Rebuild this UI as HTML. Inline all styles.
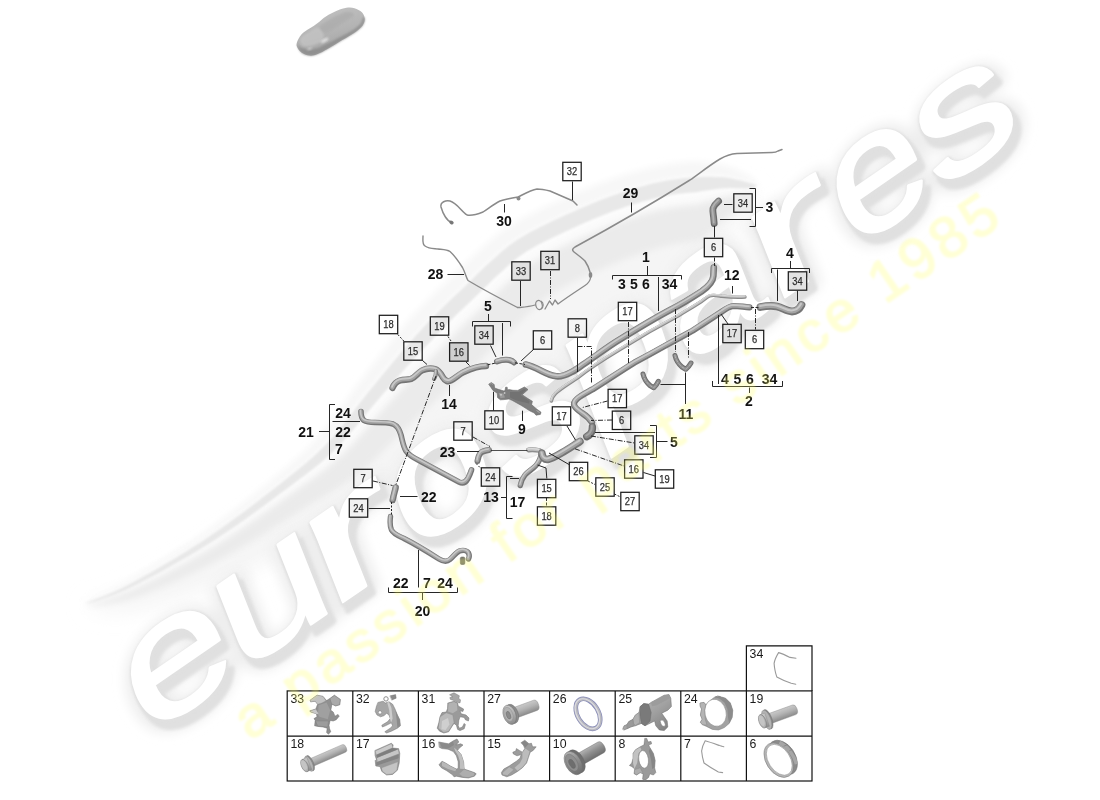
<!DOCTYPE html>
<html><head><meta charset="utf-8"><title>Porsche parts diagram - water cooling hoses</title>
<style>
html,body{margin:0;padding:0;background:#fff;}
body{width:1100px;height:800px;overflow:hidden;font-family:'Liberation Sans', Arial, sans-serif;}
svg{display:block;}
svg text{font-family:'Liberation Sans', Arial, sans-serif;}
</style></head>
<body>
<svg width="1100" height="800" viewBox="0 0 1100 800" role="img" aria-label="Parts diagram with eurospares watermark">
<desc>Exploded parts diagram of coolant hoses and lines with numbered callouts and a fastener legend table. Watermark: eurospares - a passion for parts since 1985</desc>
<defs>
<filter id="blur6" x="-20%" y="-20%" width="140%" height="140%"><feGaussianBlur stdDeviation="6"/></filter>
<filter id="blur10" x="-20%" y="-20%" width="140%" height="140%"><feGaussianBlur stdDeviation="10"/></filter>
<filter id="blur2" x="-20%" y="-20%" width="140%" height="140%"><feGaussianBlur stdDeviation="1.8"/></filter>
<filter id="blur3" x="-20%" y="-20%" width="140%" height="140%"><feGaussianBlur stdDeviation="3"/></filter>
<filter id="blur1" x="-20%" y="-20%" width="140%" height="140%"><feGaussianBlur stdDeviation="0.8"/></filter>
<linearGradient id="swg" x1="0" y1="1" x2="1" y2="0">
<stop offset="0" stop-color="#f3f3f3"/><stop offset="0.3" stop-color="#e7e7e7"/><stop offset="0.7" stop-color="#ebebeb"/><stop offset="1" stop-color="#f6f6f6"/>
</linearGradient>
</defs>
<g id="swoosh">
<path d="M84.0,604.0 L85.6,602.8 L87.6,601.7 L89.8,600.5 L92.3,599.3 L95.1,598.0 L98.0,596.6 L101.2,595.0 L104.6,593.4 L108.2,591.7 L111.9,589.8 L115.8,587.8 L119.8,585.6 L124.0,583.3 L128.3,580.8 L132.8,578.1 L137.7,575.1 L142.8,572.0 L148.2,568.8 L153.7,565.4 L159.4,561.8 L165.3,558.1 L171.2,554.4 L177.2,550.5 L183.2,546.6 L189.1,542.7 L195.0,538.7 L200.8,534.7 L206.4,530.7 L212.1,526.6 L217.9,522.3 L223.8,517.9 L229.8,513.3 L235.9,508.6 L241.9,503.9 L247.9,499.2 L253.8,494.5 L259.5,489.8 L265.0,485.3 L270.4,480.9 L275.4,476.7 L280.1,472.8 L284.5,469.1 L288.4,465.7 L292.0,462.6 L295.3,459.7 L298.3,457.1 L301.0,454.6 L303.5,452.2 L305.8,449.9 L308.1,447.7 L310.2,445.4 L312.4,443.1 L314.6,440.7 L316.9,438.2 L319.3,435.4 L321.8,432.5 L324.4,429.4 L327.0,426.1 L329.6,422.8 L332.3,419.3 L334.9,415.7 L337.6,412.0 L340.3,408.3 L343.0,404.5 L345.8,400.7 L348.5,396.8 L351.3,393.0 L354.1,389.1 L356.9,385.3 L359.7,381.6 L362.5,378.0 L365.3,374.3 L368.1,370.6 L371.0,366.9 L373.8,363.1 L376.7,359.4 L379.6,355.7 L382.4,352.1 L385.2,348.5 L388.0,345.0 L390.7,341.5 L393.3,338.2 L395.9,335.0 L398.4,331.9 L400.8,328.9 L403.2,326.0 L405.5,323.2 L407.8,320.6 L410.1,318.0 L412.3,315.6 L414.5,313.3 L416.7,311.0 L418.8,308.9 L420.8,306.7 L422.8,304.7 L424.8,302.7 L426.7,300.7 L428.6,298.8 L430.5,296.9 L432.3,295.1 L434.0,293.4 L435.6,291.8 L437.2,290.3 L438.7,288.9 L440.2,287.5 L441.7,286.1 L443.1,284.8 L444.6,283.4 L446.1,282.0 L447.6,280.6 L449.2,279.1 L450.9,277.5 L452.7,275.8 L454.5,274.0 L456.3,272.2 L458.2,270.3 L460.2,268.3 L462.2,266.3 L464.3,264.3 L466.4,262.2 L468.5,260.2 L470.6,258.1 L472.8,256.0 L475.0,254.0 L477.2,252.0 L479.4,250.0 L481.4,248.3 L483.3,246.5 L485.2,244.8 L487.1,243.1 L489.1,241.3 L491.2,239.5 L493.3,237.7 L495.5,235.8 L497.8,233.9 L500.3,232.0 L502.9,230.1 L505.6,228.2 L508.6,226.3 L511.6,224.4 L514.9,222.4 L518.3,220.5 L521.8,218.6 L525.4,216.6 L529.1,214.7 L532.9,212.8 L536.7,210.9 L540.6,209.0 L544.5,207.1 L548.4,205.3 L552.2,203.5 L556.0,201.8 L559.8,200.1 L563.4,198.4 L567.1,196.8 L570.7,195.2 L574.3,193.6 L578.0,192.0 L581.7,190.5 L585.3,188.9 L589.0,187.4 L592.7,185.9 L596.4,184.5 L600.1,183.1 L603.8,181.7 L607.5,180.4 L611.2,179.1 L615.0,177.8 L618.6,176.6 L622.3,175.4 L626.0,174.3 L629.7,173.2 L633.4,172.1 L637.1,171.0 L640.9,170.0 L644.6,169.0 L648.4,168.1 L652.2,167.2 L656.0,166.3 L659.8,165.6 L663.6,164.9 L667.5,164.2 L671.3,163.6 L675.2,163.1 L679.1,162.6 L683.0,162.2 L687.0,161.8 L690.9,161.5 L694.8,161.2 L698.8,161.5 L702.6,161.8 L706.4,162.2 L710.1,162.6 L713.8,163.2 L717.3,163.8 L720.8,164.5 L724.3,165.3 L727.9,166.3 L731.3,167.4 L734.6,168.7 L737.8,170.0 L740.8,171.4 L743.7,172.8 L746.4,174.3 L748.9,175.8 L751.1,177.3 L753.1,178.8 L754.8,180.4 L756.2,182.2 L757.0,185.0 L757.0,185.0 L755.5,184.6 L753.8,184.2 L751.8,183.6 L749.5,183.0 L747.0,182.3 L744.4,181.6 L741.6,180.8 L738.7,180.1 L735.7,179.4 L732.6,178.7 L729.5,178.1 L726.3,177.6 L723.1,177.3 L720.0,177.0 L716.8,176.9 L713.5,176.8 L710.1,176.7 L706.7,176.8 L703.1,176.8 L699.5,177.0 L695.8,177.2 L692.1,177.4 L688.4,177.7 L684.7,178.1 L680.9,178.5 L677.3,179.0 L673.6,179.5 L670.0,180.0 L666.4,180.6 L662.9,181.3 L659.3,182.0 L655.7,182.8 L652.1,183.6 L648.6,184.5 L645.0,185.4 L641.4,186.4 L637.9,187.4 L634.3,188.5 L630.7,189.6 L627.1,190.7 L623.6,191.8 L620.0,193.0 L616.4,194.2 L612.9,195.4 L609.3,196.7 L605.7,198.1 L602.1,199.4 L598.6,200.8 L595.0,202.2 L591.4,203.7 L587.9,205.2 L584.3,206.7 L580.7,208.3 L577.1,209.8 L573.6,211.4 L570.0,213.0 L566.4,214.6 L562.7,216.3 L558.9,218.0 L555.1,219.8 L551.3,221.6 L547.5,223.4 L543.8,225.2 L540.0,227.1 L536.4,228.9 L532.8,230.8 L529.4,232.6 L526.1,234.4 L523.0,236.2 L520.0,238.0 L517.2,239.7 L514.6,241.5 L512.2,243.2 L509.9,244.8 L507.7,246.5 L505.6,248.2 L503.6,249.9 L501.7,251.6 L499.7,253.2 L497.8,255.0 L495.9,256.7 L494.0,258.4 L492.0,260.2 L490.0,262.0 L487.9,263.9 L485.8,265.8 L483.8,267.7 L481.7,269.7 L479.6,271.7 L477.5,273.7 L475.5,275.7 L473.5,277.7 L471.5,279.7 L469.5,281.6 L467.6,283.6 L465.7,285.4 L463.8,287.2 L462.0,289.0 L460.3,290.7 L458.6,292.2 L457.0,293.7 L455.5,295.1 L454.0,296.5 L452.6,297.8 L451.1,299.2 L449.7,300.5 L448.2,301.9 L446.7,303.4 L445.1,304.9 L443.5,306.5 L441.8,308.2 L440.0,310.0 L438.1,311.9 L436.2,313.9 L434.3,315.8 L432.3,317.9 L430.3,320.0 L428.2,322.1 L426.1,324.3 L424.0,326.6 L421.8,328.9 L419.5,331.4 L417.2,333.9 L414.9,336.5 L412.5,339.2 L410.0,342.0 L407.5,344.9 L404.8,348.0 L402.1,351.2 L399.3,354.5 L396.5,357.9 L393.6,361.3 L390.6,364.9 L387.7,368.4 L384.7,372.1 L381.7,375.7 L378.8,379.3 L375.8,382.9 L372.9,386.5 L370.0,390.0 L367.1,393.5 L364.3,397.2 L361.4,400.8 L358.6,404.5 L355.7,408.3 L352.9,412.0 L350.0,415.8 L347.1,419.4 L344.3,423.1 L341.4,426.7 L338.6,430.2 L335.7,433.6 L332.9,436.9 L330.0,440.0 L327.2,442.9 L324.6,445.7 L322.2,448.2 L319.7,450.6 L317.4,452.9 L315.0,455.1 L312.5,457.4 L309.9,459.6 L307.2,461.9 L304.3,464.4 L301.2,467.0 L297.8,469.7 L294.1,472.7 L290.0,476.0 L285.5,479.6 L280.7,483.4 L275.5,487.5 L270.1,491.7 L264.4,496.1 L258.5,500.7 L252.5,505.2 L246.4,509.9 L240.2,514.5 L234.0,519.0 L227.9,523.5 L221.8,527.8 L215.8,532.0 L210.0,536.0 L204.2,539.9 L198.3,543.7 L192.2,547.6 L186.2,551.4 L180.0,555.2 L173.9,558.9 L167.9,562.5 L161.9,566.0 L156.1,569.4 L150.4,572.7 L144.9,575.8 L139.6,578.7 L134.7,581.5 L130.0,584.0 L125.6,586.3 L121.2,588.5 L117.1,590.5 L113.0,592.3 L109.2,594.0 L105.5,595.6 L102.0,597.0 L98.7,598.3 L95.6,599.5 L92.8,600.6 L90.2,601.5 L87.9,602.4 L85.8,603.3 L84.0,604.0 Z" fill="#f7f7f7" filter="url(#blur3)"/>
<path d="M84.0,604.0 L86.0,603.8 L88.2,603.4 L90.7,602.9 L93.5,602.3 L96.4,601.5 L99.6,600.7 L103.1,599.7 L106.7,598.6 L110.6,597.3 L114.6,595.9 L118.8,594.3 L123.2,592.5 L127.7,590.6 L132.4,588.4 L137.2,586.1 L142.4,583.6 L147.8,580.9 L153.4,578.0 L159.3,575.0 L165.3,571.8 L171.4,568.5 L177.7,565.1 L184.0,561.6 L190.3,558.0 L196.5,554.4 L202.8,550.7 L208.9,547.0 L214.9,543.3 L221.0,539.5 L227.1,535.4 L233.4,531.2 L239.8,526.9 L246.2,522.5 L252.5,518.1 L258.8,513.6 L265.0,509.2 L271.1,504.8 L277.0,500.6 L282.6,496.5 L287.9,492.6 L292.9,488.9 L297.6,485.5 L301.8,482.4 L305.8,479.5 L309.4,476.9 L312.7,474.4 L315.8,472.1 L318.8,469.8 L321.7,467.6 L324.4,465.4 L327.1,463.2 L329.8,460.9 L332.5,458.5 L335.3,456.0 L338.2,453.3 L341.2,450.4 L344.5,447.2 L347.7,443.8 L350.9,440.4 L354.0,436.8 L357.1,433.3 L360.2,429.6 L363.3,426.0 L366.4,422.4 L369.4,418.7 L372.4,415.2 L375.4,411.6 L378.3,408.2 L381.3,404.8 L384.2,401.5 L387.2,398.2 L390.3,394.7 L393.4,391.3 L396.5,387.8 L399.6,384.3 L402.7,380.9 L405.8,377.5 L408.9,374.1 L411.9,370.8 L414.9,367.6 L417.8,364.5 L420.6,361.5 L423.3,358.6 L425.9,355.9 L428.5,353.4 L430.9,350.9 L433.3,348.5 L435.7,346.2 L437.9,343.9 L440.0,341.6 L442.1,339.4 L444.1,337.3 L446.1,335.2 L448.1,333.2 L450.0,331.2 L451.9,329.2 L453.8,327.3 L455.7,325.4 L457.4,323.7 L459.0,322.1 L460.5,320.6 L461.9,319.2 L463.3,317.9 L464.7,316.6 L466.1,315.3 L467.5,314.0 L469.0,312.6 L470.5,311.2 L472.1,309.8 L473.7,308.2 L475.4,306.6 L477.2,304.9 L479.2,303.0 L481.1,301.1 L483.0,299.2 L485.0,297.2 L487.0,295.3 L489.0,293.3 L490.9,291.4 L492.9,289.4 L494.9,287.5 L496.9,285.6 L498.8,283.7 L500.8,281.9 L502.7,280.2 L504.6,278.4 L506.7,276.6 L508.7,274.8 L510.7,273.0 L512.6,271.3 L514.4,269.7 L516.1,268.2 L517.8,266.7 L519.6,265.2 L521.3,263.8 L523.1,262.4 L525.0,261.0 L527.0,259.6 L529.2,258.2 L531.5,256.8 L534.1,255.2 L536.9,253.6 L539.9,252.0 L543.1,250.3 L546.4,248.5 L549.9,246.8 L553.4,245.0 L557.1,243.2 L560.8,241.5 L564.5,239.7 L568.2,238.0 L571.8,236.3 L575.5,234.7 L579.0,233.1 L582.5,231.5 L586.0,230.0 L589.5,228.4 L592.9,226.9 L596.4,225.5 L599.8,224.0 L603.3,222.6 L606.7,221.3 L610.1,219.9 L613.5,218.6 L616.8,217.4 L620.2,216.2 L623.6,215.0 L626.9,213.9 L630.3,212.8 L633.8,211.7 L637.2,210.6 L640.6,209.6 L644.0,208.6 L647.3,207.6 L650.7,206.7 L654.0,205.8 L657.3,205.0 L660.6,204.2 L663.8,203.5 L667.1,202.9 L670.3,202.3 L673.5,201.7 L676.8,201.2 L680.1,200.8 L683.5,200.4 L686.9,200.0 L690.3,199.7 L693.7,199.4 L697.1,199.1 L700.5,198.3 L703.8,197.6 L707.0,196.8 L710.1,196.1 L713.2,195.4 L716.2,194.8 L718.9,194.2 L721.5,193.7 L724.1,193.2 L726.9,192.8 L729.8,192.5 L732.8,192.3 L735.8,192.1 L738.8,191.8 L741.7,191.6 L744.5,191.2 L747.3,190.8 L749.9,190.2 L752.4,189.4 L754.7,188.1 L757.0,185.0 L757.0,185.0 L750.8,203.4 L746.0,212.4 L741.6,219.5 L737.4,225.7 L733.4,231.1 L729.6,236.2 L726.1,240.9 L722.9,245.4 L720.0,249.8 L717.6,254.1 L715.7,258.4 L714.5,262.6 L714.1,266.8 L714.0,270.9 L713.2,274.8 L711.8,278.7 L710.1,282.4 L708.4,286.1 L706.7,289.8 L704.9,293.4 L703.1,297.0 L701.0,297.1 L698.9,297.3 L696.8,297.5 L694.7,297.7 L692.7,298.0 L690.8,298.2 L689.0,298.5 L687.5,298.7 L685.8,299.0 L684.1,299.4 L682.3,299.8 L680.3,300.3 L678.2,300.8 L676.0,301.4 L673.7,302.0 L671.3,302.7 L668.7,303.4 L666.1,304.2 L663.4,305.1 L660.5,306.0 L657.8,306.9 L655.3,307.7 L652.9,308.6 L650.5,309.4 L648.0,310.4 L645.4,311.4 L642.8,312.4 L640.0,313.5 L637.3,314.6 L634.4,315.8 L631.5,317.0 L628.5,318.3 L625.5,319.7 L622.4,321.0 L619.2,322.4 L615.9,323.9 L612.6,325.4 L609.3,327.0 L606.0,328.5 L602.8,330.0 L599.6,331.5 L596.6,333.0 L593.8,334.4 L591.1,335.7 L588.7,337.0 L586.6,338.1 L584.9,339.1 L583.5,339.8 L582.7,340.3 L582.3,340.6 L582.1,340.7 L582.0,340.7 L582.0,340.8 L581.8,340.9 L581.6,341.1 L581.1,341.5 L580.4,342.1 L579.4,343.0 L578.1,344.2 L576.4,345.7 L574.4,347.5 L572.0,349.7 L569.7,351.7 L568.3,352.9 L567.2,353.9 L566.0,355.1 L564.6,356.4 L563.1,357.8 L561.5,359.4 L559.8,361.1 L558.0,362.9 L556.0,364.8 L554.1,366.8 L552.0,368.9 L549.8,371.0 L547.5,373.3 L545.2,375.5 L542.9,377.7 L540.9,379.6 L539.0,381.4 L537.2,383.0 L535.6,384.5 L534.2,385.8 L533.0,386.9 L531.8,388.0 L530.8,389.0 L529.8,389.9 L528.9,390.8 L527.9,391.8 L526.8,392.9 L525.5,394.2 L523.8,395.9 L522.0,397.8 L520.2,399.6 L518.5,401.4 L516.7,403.2 L515.0,405.0 L513.2,406.9 L511.5,408.7 L509.7,410.6 L507.7,412.4 L505.1,413.7 L502.4,415.0 L499.7,416.5 L496.8,418.0 L493.9,419.7 L490.8,421.6 L487.5,423.7 L484.2,426.0 L480.7,428.4 L477.1,431.0 L473.5,433.6 L469.8,436.3 L466.1,439.0 L462.3,441.8 L458.5,444.7 L454.8,447.5 L451.0,450.3 L447.5,452.8 L444.2,455.0 L441.0,457.3 L437.6,459.8 L434.1,462.5 L430.4,465.4 L426.6,468.4 L422.6,471.7 L418.6,475.0 L414.4,478.5 L410.0,482.0 L405.6,485.7 L400.9,489.4 L396.1,493.1 L391.3,496.6 L387.0,499.5 L382.9,502.0 L378.8,504.4 L374.8,506.8 L370.7,509.0 L366.6,511.2 L362.4,513.3 L358.3,515.3 L354.1,517.3 L349.9,519.2 L345.6,521.1 L341.1,523.2 L336.4,525.4 L331.4,527.8 L326.0,530.5 L320.2,533.4 L314.1,536.6 L307.7,540.0 L301.0,543.5 L294.1,547.2 L287.1,550.9 L280.0,554.6 L272.8,558.4 L265.5,562.1 L258.2,565.7 L251.0,569.2 L243.9,572.6 L236.8,575.7 L229.8,578.7 L222.8,581.7 L215.7,584.6 L208.5,587.4 L201.4,590.1 L194.3,592.7 L187.3,595.2 L180.4,597.6 L173.6,599.8 L167.0,601.9 L160.7,603.8 L154.5,605.5 L148.6,607.0 L143.0,608.3 L137.4,609.4 L131.9,610.4 L126.7,611.1 L121.6,611.5 L116.8,611.8 L112.2,611.8 L107.9,611.7 L103.8,611.3 L100.0,610.8 L96.4,610.0 L93.1,609.0 L90.0,607.8 L87.0,606.3 L84.0,604.0 Z" fill="#f5f5f5" filter="url(#blur10)"/>
<path d="M84.0,604.0 L86.1,604.0 L88.3,603.7 L90.9,603.3 L93.6,602.8 L96.6,602.1 L99.9,601.3 L103.4,600.4 L107.1,599.4 L111.0,598.2 L115.0,596.8 L119.3,595.3 L123.7,593.6 L128.3,591.7 L133.0,589.7 L137.9,587.4 L143.1,585.0 L148.6,582.3 L154.3,579.5 L160.2,576.5 L166.2,573.4 L172.4,570.1 L178.7,566.8 L185.0,563.3 L191.4,559.8 L197.7,556.2 L204.0,552.6 L210.2,548.9 L216.3,545.3 L222.4,541.5 L228.6,537.5 L235.0,533.3 L241.4,529.1 L247.8,524.7 L254.2,520.3 L260.6,515.9 L266.8,511.5 L272.9,507.2 L278.8,503.0 L284.5,499.0 L289.9,495.1 L295.0,491.5 L299.7,488.1 L304.0,485.0 L307.9,482.2 L311.6,479.6 L315.0,477.2 L318.2,474.9 L321.2,472.6 L324.2,470.4 L327.0,468.2 L329.8,466.0 L332.6,463.7 L335.4,461.3 L338.2,458.8 L341.2,456.1 L344.3,453.2 L347.6,450.0 L350.9,446.6 L354.2,443.1 L357.4,439.6 L360.6,436.0 L363.8,432.4 L367.0,428.8 L370.1,425.2 L373.1,421.6 L376.2,418.1 L379.2,414.6 L382.2,411.2 L385.1,407.9 L388.1,404.7 L391.1,401.4 L394.2,398.0 L397.4,394.5 L400.5,391.1 L403.7,387.7 L406.8,384.3 L410.0,380.9 L413.1,377.6 L416.1,374.3 L419.1,371.2 L422.0,368.1 L424.9,365.2 L427.6,362.4 L430.3,359.7 L432.8,357.2 L435.3,354.8 L437.7,352.5 L440.1,350.3 L442.3,348.0 L444.4,345.8 L446.4,343.6 L448.5,341.5 L450.4,339.4 L452.4,337.4 L454.3,335.4 L456.2,333.4 L458.1,331.5 L460.0,329.6 L461.6,327.9 L463.2,326.4 L464.7,324.9 L466.1,323.6 L467.5,322.2 L468.8,321.0 L470.2,319.7 L471.6,318.4 L473.1,317.0 L474.6,315.6 L476.1,314.2 L477.8,312.6 L479.5,311.0 L481.4,309.2 L483.3,307.3 L485.3,305.4 L487.3,303.5 L489.2,301.5 L491.2,299.5 L493.2,297.6 L495.2,295.6 L497.1,293.7 L499.1,291.8 L501.0,289.9 L502.9,288.1 L504.8,286.3 L506.7,284.6 L508.6,282.9 L510.7,281.1 L512.8,279.2 L514.7,277.4 L516.6,275.8 L518.3,274.2 L520.0,272.7 L521.7,271.3 L523.4,269.9 L525.0,268.5 L526.7,267.2 L528.5,265.9 L530.4,264.6 L532.4,263.3 L534.6,261.9 L537.1,260.4 L539.8,258.9 L542.7,257.2 L545.9,255.6 L549.2,253.9 L552.6,252.1 L556.1,250.4 L559.7,248.6 L563.3,246.9 L567.0,245.2 L570.7,243.5 L574.3,241.8 L577.9,240.1 L581.5,238.5 L585.0,237.0 L588.4,235.4 L591.9,233.9 L595.3,232.5 L598.7,231.0 L602.1,229.6 L605.5,228.2 L608.9,226.9 L612.2,225.5 L615.6,224.3 L618.9,223.0 L622.2,221.8 L625.5,220.7 L628.8,219.6 L632.2,218.5 L635.6,217.4 L639.0,216.3 L642.3,215.3 L645.7,214.3 L649.0,213.4 L652.2,212.5 L655.5,211.6 L658.7,210.8 L661.9,210.1 L665.1,209.4 L668.2,208.8 L671.3,208.2 L674.4,207.6 L677.6,207.2 L680.9,206.7 L684.2,206.3 L687.5,205.9 L690.8,205.6 L694.2,205.4 L697.5,205.1 L700.7,204.2 L703.9,203.2 L707.1,202.3 L710.1,201.4 L713.1,200.5 L716.0,199.7 L718.6,198.9 L721.0,198.1 L723.5,197.5 L726.2,196.9 L729.1,196.3 L732.0,195.8 L735.0,195.3 L738.0,194.8 L741.0,194.3 L743.9,193.7 L746.7,192.9 L749.4,192.0 L752.0,190.8 L754.4,189.0 L757.0,185.0 L757.0,185.0 L753.0,194.6 L749.7,199.2 L746.3,202.8 L743.0,205.7 L739.8,208.3 L736.5,210.7 L733.3,212.9 L730.3,214.9 L727.3,216.9 L724.6,218.9 L722.1,220.9 L720.0,222.9 L718.3,225.0 L716.8,227.1 L714.9,229.1 L712.6,231.1 L710.1,233.1 L707.6,235.1 L705.0,237.1 L702.4,239.1 L699.7,241.1 L696.9,241.3 L694.0,241.5 L691.1,241.8 L688.3,242.1 L685.5,242.4 L682.8,242.8 L680.2,243.2 L677.6,243.6 L675.1,244.1 L672.5,244.6 L669.9,245.2 L667.2,245.8 L664.4,246.5 L661.5,247.3 L658.6,248.1 L655.7,248.9 L652.7,249.8 L649.6,250.7 L646.5,251.7 L643.3,252.7 L640.1,253.7 L637.2,254.7 L634.2,255.8 L631.3,256.8 L628.3,258.0 L625.2,259.1 L622.1,260.3 L619.0,261.6 L615.9,262.9 L612.7,264.2 L609.5,265.6 L606.2,267.0 L602.9,268.4 L599.6,269.9 L596.2,271.4 L592.8,272.9 L589.3,274.5 L585.8,276.1 L582.2,277.8 L578.8,279.4 L575.3,281.1 L571.9,282.7 L568.7,284.3 L565.6,285.9 L562.6,287.4 L559.9,288.9 L557.4,290.2 L555.3,291.5 L553.4,292.6 L551.9,293.5 L550.6,294.4 L549.5,295.2 L548.3,296.0 L547.3,296.9 L546.1,297.8 L545.0,298.7 L543.7,299.8 L542.2,301.1 L540.6,302.5 L538.9,304.1 L536.9,305.9 L534.7,307.9 L532.5,309.8 L530.8,311.4 L529.3,312.8 L527.6,314.3 L525.9,315.9 L524.1,317.6 L522.3,319.4 L520.4,321.3 L518.5,323.1 L516.6,325.1 L514.6,327.1 L512.6,329.1 L510.5,331.1 L508.4,333.1 L506.3,335.1 L504.3,337.1 L502.5,338.8 L500.7,340.5 L499.1,342.0 L497.6,343.4 L496.1,344.7 L494.8,346.0 L493.5,347.2 L492.3,348.4 L491.0,349.5 L489.8,350.7 L488.5,352.0 L487.2,353.3 L485.6,354.9 L483.8,356.7 L482.0,358.6 L480.1,360.5 L478.2,362.4 L476.4,364.4 L474.5,366.3 L472.6,368.3 L470.6,370.4 L468.7,372.5 L466.6,374.6 L464.1,376.4 L461.6,378.4 L459.0,380.4 L456.3,382.5 L453.6,384.8 L450.7,387.3 L447.7,389.9 L444.6,392.6 L441.4,395.5 L438.1,398.5 L434.8,401.5 L431.5,404.6 L428.1,407.8 L424.7,411.0 L421.3,414.2 L417.9,417.3 L414.5,420.5 L411.3,423.5 L408.2,426.3 L405.2,429.2 L402.1,432.3 L398.8,435.4 L395.5,438.7 L392.2,442.1 L388.7,445.6 L385.2,449.1 L381.7,452.6 L378.0,456.2 L374.3,459.8 L370.5,463.3 L366.6,466.8 L362.7,470.2 L359.1,473.1 L355.7,475.7 L352.4,478.2 L349.1,480.6 L345.8,482.8 L342.5,485.1 L339.1,487.2 L335.7,489.3 L332.3,491.4 L328.6,493.6 L324.9,495.9 L320.9,498.2 L316.7,500.8 L312.1,503.6 L307.1,506.7 L301.7,510.1 L296.1,513.7 L290.1,517.5 L283.9,521.4 L277.5,525.5 L271.0,529.6 L264.3,533.7 L257.6,537.9 L250.8,542.0 L244.1,546.0 L237.4,549.9 L230.8,553.6 L224.3,557.2 L217.9,560.6 L211.3,564.0 L204.7,567.3 L198.1,570.6 L191.4,573.8 L184.8,576.9 L178.2,580.0 L171.8,582.9 L165.4,585.6 L159.3,588.3 L153.3,590.7 L147.6,593.0 L142.1,595.1 L136.9,596.9 L131.9,598.6 L126.9,600.2 L122.2,601.5 L117.6,602.6 L113.2,603.5 L109.1,604.2 L105.1,604.8 L101.4,605.2 L97.9,605.5 L94.7,605.6 L91.7,605.5 L89.0,605.3 L86.5,604.9 L84.0,604.0 Z" fill="#ebebeb" filter="url(#blur3)"/>
<path d="M84.0,604.0 L85.8,603.3 L87.9,602.4 L90.2,601.5 L92.8,600.6 L95.6,599.5 L98.7,598.3 L102.0,597.0 L105.5,595.6 L109.2,594.0 L113.0,592.3 L117.1,590.5 L121.2,588.5 L125.6,586.3 L130.0,584.0 L134.7,581.5 L139.6,578.7 L144.9,575.8 L150.4,572.7 L156.1,569.4 L161.9,566.0 L167.9,562.5 L173.9,558.9 L180.0,555.2 L186.2,551.4 L192.2,547.6 L198.3,543.7 L204.2,539.9 L210.0,536.0 L215.8,532.0 L221.8,527.8 L227.9,523.5 L234.0,519.0 L240.2,514.5 L246.4,509.9 L252.5,505.2 L258.5,500.7 L264.4,496.1 L270.1,491.7 L275.5,487.5 L280.7,483.4 L285.5,479.6 L290.0,476.0 L294.1,472.7 L297.8,469.7 L301.2,467.0 L304.3,464.4 L307.2,461.9 L309.9,459.6 L312.5,457.4 L315.0,455.1 L317.4,452.9 L319.7,450.6 L322.2,448.2 L324.6,445.7 L327.2,442.9 L330.0,440.0 L332.9,436.9 L335.7,433.6 L338.6,430.2 L341.4,426.7 L344.3,423.1 L347.1,419.4 L350.0,415.8 L352.9,412.0 L355.7,408.3 L358.6,404.5 L361.4,400.8 L364.3,397.2 L367.1,393.5 L370.0,390.0 L372.9,386.5 L375.8,382.9 L378.8,379.3 L381.7,375.7 L384.7,372.1 L387.7,368.4 L390.6,364.9 L393.6,361.3 L396.5,357.9 L399.3,354.5 L402.1,351.2 L404.8,348.0 L407.5,344.9 L410.0,342.0 L412.5,339.2 L414.9,336.5 L417.2,333.9 L419.5,331.4 L421.8,328.9 L424.0,326.6 L426.1,324.3 L428.2,322.1 L430.3,320.0 L432.3,317.9 L434.3,315.8 L436.2,313.9 L438.1,311.9 L440.0,310.0 L441.8,308.2 L443.5,306.5 L445.1,304.9 L446.7,303.4 L448.2,301.9 L449.7,300.5 L451.1,299.2 L452.6,297.8 L454.0,296.5 L455.5,295.1 L457.0,293.7 L458.6,292.2 L460.3,290.7 L462.0,289.0 L463.8,287.2 L465.7,285.4 L467.6,283.6 L469.5,281.6 L471.5,279.7 L473.5,277.7 L475.5,275.7 L477.5,273.7 L479.6,271.7 L481.7,269.7 L483.8,267.7 L485.8,265.8 L487.9,263.9 L490.0,262.0 L492.0,260.2 L494.0,258.4 L495.9,256.7 L497.8,255.0 L499.7,253.2 L501.7,251.6 L503.6,249.9 L505.6,248.2 L507.7,246.5 L509.9,244.8 L512.2,243.2 L514.6,241.5 L517.2,239.7 L520.0,238.0 L523.0,236.2 L526.1,234.4 L529.4,232.6 L532.8,230.8 L536.4,228.9 L540.0,227.1 L543.8,225.2 L547.5,223.4 L551.3,221.6 L555.1,219.8 L558.9,218.0 L562.7,216.3 L566.4,214.6 L570.0,213.0 L573.6,211.4 L577.1,209.8 L580.7,208.3 L584.3,206.7 L587.9,205.2 L591.4,203.7 L595.0,202.2 L598.6,200.8 L602.1,199.4 L605.7,198.1 L609.3,196.7 L612.9,195.4 L616.4,194.2 L620.0,193.0 L623.6,191.8 L627.1,190.7 L630.7,189.6 L634.3,188.5 L637.9,187.4 L641.4,186.4 L645.0,185.4 L648.6,184.5 L652.1,183.6 L655.7,182.8 L659.3,182.0 L662.9,181.3 L666.4,180.6 L670.0,180.0 L673.6,179.5 L677.3,179.0 L680.9,178.5 L684.7,178.1 L688.4,177.7 L692.1,177.4 L695.8,177.2 L699.5,177.0 L703.1,176.8 L706.7,176.8 L710.1,176.7 L713.5,176.8 L716.8,176.9 L720.0,177.0 L723.1,177.3 L726.3,177.6 L729.5,178.1 L732.6,178.7 L735.7,179.4 L738.7,180.1 L741.6,180.8 L744.4,181.6 L747.0,182.3 L749.5,183.0 L751.8,183.6 L753.8,184.2 L755.5,184.6 L757.0,185.0 L757.0,185.0 L754.9,187.0 L752.8,187.7 L750.5,188.1 L748.0,188.3 L745.3,188.4 L742.6,188.4 L739.7,188.3 L736.7,188.2 L733.7,188.2 L730.7,188.1 L727.7,188.2 L724.8,188.3 L722.0,188.4 L719.3,188.7 L716.4,189.1 L713.3,189.5 L710.1,189.9 L706.9,190.4 L703.5,191.0 L700.2,191.5 L696.7,192.2 L693.2,192.4 L689.7,192.7 L686.2,193.0 L682.7,193.4 L679.2,193.8 L675.7,194.3 L672.4,194.8 L669.1,195.4 L665.7,196.0 L662.4,196.7 L659.0,197.4 L655.7,198.2 L652.3,199.0 L648.9,199.9 L645.5,200.9 L642.0,201.8 L638.6,202.9 L635.1,203.9 L631.7,205.0 L628.2,206.1 L624.7,207.2 L621.3,208.4 L617.9,209.6 L614.4,210.8 L611.0,212.1 L607.6,213.4 L604.1,214.8 L600.6,216.2 L597.2,217.6 L593.7,219.0 L590.2,220.5 L586.7,222.0 L583.2,223.5 L579.7,225.1 L576.2,226.7 L572.6,228.3 L568.9,230.0 L565.2,231.7 L561.5,233.4 L557.8,235.2 L554.0,236.9 L550.4,238.7 L546.7,240.5 L543.2,242.3 L539.8,244.1 L536.5,245.8 L533.4,247.5 L530.5,249.2 L527.8,250.8 L525.4,252.3 L523.1,253.9 L520.9,255.4 L518.9,256.8 L517.0,258.3 L515.1,259.8 L513.3,261.3 L511.5,262.9 L509.7,264.5 L507.9,266.1 L506.0,267.8 L504.1,269.6 L502.0,271.4 L500.0,273.2 L498.0,275.0 L496.0,276.8 L494.0,278.6 L492.0,280.5 L490.0,282.4 L488.0,284.4 L486.0,286.4 L484.0,288.3 L482.0,290.3 L480.1,292.3 L478.1,294.2 L476.2,296.1 L474.3,298.0 L472.4,299.8 L470.6,301.5 L468.9,303.1 L467.3,304.7 L465.7,306.1 L464.2,307.5 L462.8,308.8 L461.4,310.2 L459.9,311.5 L458.5,312.8 L457.1,314.2 L455.6,315.6 L454.1,317.1 L452.4,318.8 L450.7,320.5 L448.8,322.4 L446.9,324.3 L445.0,326.3 L443.1,328.3 L441.1,330.4 L439.1,332.5 L437.0,334.6 L434.9,336.9 L432.8,339.2 L430.6,341.5 L428.2,343.9 L425.8,346.3 L423.4,348.9 L420.9,351.5 L418.3,354.3 L415.6,357.2 L412.8,360.3 L409.9,363.4 L407.0,366.7 L404.0,370.0 L401.0,373.5 L397.9,376.9 L394.9,380.4 L391.8,383.9 L388.7,387.5 L385.7,391.0 L382.6,394.4 L379.7,397.9 L376.8,401.2 L373.9,404.7 L371.0,408.2 L368.0,411.8 L365.0,415.4 L362.1,419.1 L359.1,422.7 L356.1,426.4 L353.0,430.0 L350.0,433.6 L346.9,437.1 L343.9,440.5 L340.8,443.9 L337.7,447.1 L334.7,450.0 L331.9,452.7 L329.2,455.2 L326.6,457.6 L324.0,459.9 L321.4,462.2 L318.7,464.4 L316.0,466.6 L313.1,468.9 L310.0,471.2 L306.8,473.7 L303.2,476.4 L299.4,479.3 L295.2,482.5 L290.6,485.9 L285.6,489.7 L280.3,493.6 L274.8,497.8 L269.0,502.1 L263.0,506.5 L256.8,511.0 L250.6,515.5 L244.3,520.0 L238.0,524.4 L231.7,528.8 L225.4,533.0 L219.3,537.1 L213.4,541.0 L207.4,544.7 L201.3,548.5 L195.2,552.2 L188.9,555.9 L182.7,559.5 L176.5,563.1 L170.3,566.6 L164.2,570.0 L158.3,573.2 L152.5,576.3 L146.9,579.3 L141.5,582.1 L136.4,584.7 L131.6,587.0 L127.0,589.2 L122.6,591.2 L118.3,593.1 L114.1,594.7 L110.1,596.2 L106.3,597.6 L102.7,598.8 L99.3,599.9 L96.2,600.9 L93.2,601.7 L90.6,602.5 L88.1,603.1 L85.9,603.6 L84.0,604.0 Z" fill="#e8e8e8" filter="url(#blur1)"/>
</g>
<g id="wm-halo" filter="url(#blur6)">
<text transform="translate(155.0,740.0) rotate(-34.6) skewX(-13) translate(-7.35,-1.5) scale(1.316,1)" x="0" y="0" font-size="160" fill="#eeeeee" stroke="#eeeeee" stroke-width="21" stroke-linejoin="round" vector-effect="non-scaling-stroke">e</text>
<text transform="translate(252.1,673.0) rotate(-34.6) skewX(-13) translate(-12.72,-1.5) scale(1.368,1)" x="0" y="0" font-size="160" fill="#eeeeee" stroke="#eeeeee" stroke-width="21" stroke-linejoin="round" vector-effect="non-scaling-stroke">u</text>
<text transform="translate(345.1,608.8) rotate(-34.6) skewX(-13) translate(-18.83,-1.5) scale(1.925,1)" x="0" y="0" font-size="160" fill="#eeeeee" stroke="#eeeeee" stroke-width="21" stroke-linejoin="round" vector-effect="non-scaling-stroke">r</text>
<text transform="translate(420.9,556.6) rotate(-34.6) skewX(-13) translate(-6.95,-1.5) scale(1.258,1)" x="0" y="0" font-size="160" fill="#eeeeee" stroke="#eeeeee" stroke-width="21" stroke-linejoin="round" vector-effect="non-scaling-stroke">o</text>
<text transform="translate(513.1,493.0) rotate(-34.6) skewX(-13) translate(-4.34,-1.5) scale(1.304,1)" x="0" y="0" font-size="160" fill="#eeeeee" stroke="#eeeeee" stroke-width="21" stroke-linejoin="round" vector-effect="non-scaling-stroke">s</text>
<text transform="translate(601.1,432.2) rotate(-34.6) skewX(-13) translate(-12.01,-1.5) scale(1.319,1)" x="0" y="0" font-size="160" fill="#eeeeee" stroke="#eeeeee" stroke-width="21" stroke-linejoin="round" vector-effect="non-scaling-stroke">p</text>
<text transform="translate(695.0,367.5) rotate(-34.6) skewX(-13) translate(-6.26,-1.5) scale(1.155,1)" x="0" y="0" font-size="160" fill="#eeeeee" stroke="#eeeeee" stroke-width="21" stroke-linejoin="round" vector-effect="non-scaling-stroke">a</text>
<text transform="translate(787.2,303.9) rotate(-34.6) skewX(-13) translate(-18.30,-1.5) scale(1.875,1)" x="0" y="0" font-size="160" fill="#eeeeee" stroke="#eeeeee" stroke-width="21" stroke-linejoin="round" vector-effect="non-scaling-stroke">r</text>
<text transform="translate(861.3,252.8) rotate(-34.6) skewX(-13) translate(-6.27,-1.5) scale(1.157,1)" x="0" y="0" font-size="160" fill="#eeeeee" stroke="#eeeeee" stroke-width="21" stroke-linejoin="round" vector-effect="non-scaling-stroke">e</text>
<text transform="translate(944.4,195.4) rotate(-34.6) skewX(-13) translate(-4.47,-1.5) scale(1.333,1)" x="0" y="0" font-size="160" fill="#eeeeee" stroke="#eeeeee" stroke-width="21" stroke-linejoin="round" vector-effect="non-scaling-stroke">s</text>
</g>
<g id="wm-shadow" filter="url(#blur2)">
<text transform="translate(158.0,744.0) rotate(-34.6) skewX(-13) translate(-7.35,-1.5) scale(1.316,1)" x="0" y="0" font-size="160" fill="#e0e0e0" stroke="#e0e0e0" stroke-width="8" stroke-linejoin="round" vector-effect="non-scaling-stroke">e</text>
<text transform="translate(255.1,677.0) rotate(-34.6) skewX(-13) translate(-12.72,-1.5) scale(1.368,1)" x="0" y="0" font-size="160" fill="#e0e0e0" stroke="#e0e0e0" stroke-width="8" stroke-linejoin="round" vector-effect="non-scaling-stroke">u</text>
<text transform="translate(348.1,612.8) rotate(-34.6) skewX(-13) translate(-18.83,-1.5) scale(1.925,1)" x="0" y="0" font-size="160" fill="#e0e0e0" stroke="#e0e0e0" stroke-width="8" stroke-linejoin="round" vector-effect="non-scaling-stroke">r</text>
<text transform="translate(423.9,560.6) rotate(-34.6) skewX(-13) translate(-6.95,-1.5) scale(1.258,1)" x="0" y="0" font-size="160" fill="#e0e0e0" stroke="#e0e0e0" stroke-width="8" stroke-linejoin="round" vector-effect="non-scaling-stroke">o</text>
<text transform="translate(516.1,497.0) rotate(-34.6) skewX(-13) translate(-4.34,-1.5) scale(1.304,1)" x="0" y="0" font-size="160" fill="#e0e0e0" stroke="#e0e0e0" stroke-width="8" stroke-linejoin="round" vector-effect="non-scaling-stroke">s</text>
<text transform="translate(604.1,436.2) rotate(-34.6) skewX(-13) translate(-12.01,-1.5) scale(1.319,1)" x="0" y="0" font-size="160" fill="#e0e0e0" stroke="#e0e0e0" stroke-width="8" stroke-linejoin="round" vector-effect="non-scaling-stroke">p</text>
<text transform="translate(698.0,371.5) rotate(-34.6) skewX(-13) translate(-6.26,-1.5) scale(1.155,1)" x="0" y="0" font-size="160" fill="#e0e0e0" stroke="#e0e0e0" stroke-width="8" stroke-linejoin="round" vector-effect="non-scaling-stroke">a</text>
<text transform="translate(790.2,307.9) rotate(-34.6) skewX(-13) translate(-18.30,-1.5) scale(1.875,1)" x="0" y="0" font-size="160" fill="#e0e0e0" stroke="#e0e0e0" stroke-width="8" stroke-linejoin="round" vector-effect="non-scaling-stroke">r</text>
<text transform="translate(864.3,256.8) rotate(-34.6) skewX(-13) translate(-6.27,-1.5) scale(1.157,1)" x="0" y="0" font-size="160" fill="#e0e0e0" stroke="#e0e0e0" stroke-width="8" stroke-linejoin="round" vector-effect="non-scaling-stroke">e</text>
<text transform="translate(947.4,199.4) rotate(-34.6) skewX(-13) translate(-4.47,-1.5) scale(1.333,1)" x="0" y="0" font-size="160" fill="#e0e0e0" stroke="#e0e0e0" stroke-width="8" stroke-linejoin="round" vector-effect="non-scaling-stroke">s</text>
</g>
<g id="wm-edge" filter="url(#blur1)">
<text transform="translate(152.8,737.2) rotate(-34.6) skewX(-13) translate(-7.35,-1.5) scale(1.316,1)" x="0" y="0" font-size="160" fill="#e0e0e0" stroke="#e0e0e0" stroke-width="6" stroke-linejoin="round" vector-effect="non-scaling-stroke">e</text>
<text transform="translate(249.9,670.2) rotate(-34.6) skewX(-13) translate(-12.72,-1.5) scale(1.368,1)" x="0" y="0" font-size="160" fill="#e0e0e0" stroke="#e0e0e0" stroke-width="6" stroke-linejoin="round" vector-effect="non-scaling-stroke">u</text>
<text transform="translate(342.9,606.0) rotate(-34.6) skewX(-13) translate(-18.83,-1.5) scale(1.925,1)" x="0" y="0" font-size="160" fill="#e0e0e0" stroke="#e0e0e0" stroke-width="6" stroke-linejoin="round" vector-effect="non-scaling-stroke">r</text>
<text transform="translate(418.7,553.8) rotate(-34.6) skewX(-13) translate(-6.95,-1.5) scale(1.258,1)" x="0" y="0" font-size="160" fill="#e0e0e0" stroke="#e0e0e0" stroke-width="6" stroke-linejoin="round" vector-effect="non-scaling-stroke">o</text>
<text transform="translate(510.9,490.2) rotate(-34.6) skewX(-13) translate(-4.34,-1.5) scale(1.304,1)" x="0" y="0" font-size="160" fill="#e0e0e0" stroke="#e0e0e0" stroke-width="6" stroke-linejoin="round" vector-effect="non-scaling-stroke">s</text>
<text transform="translate(598.9,429.4) rotate(-34.6) skewX(-13) translate(-12.01,-1.5) scale(1.319,1)" x="0" y="0" font-size="160" fill="#e0e0e0" stroke="#e0e0e0" stroke-width="6" stroke-linejoin="round" vector-effect="non-scaling-stroke">p</text>
<text transform="translate(692.8,364.7) rotate(-34.6) skewX(-13) translate(-6.26,-1.5) scale(1.155,1)" x="0" y="0" font-size="160" fill="#e0e0e0" stroke="#e0e0e0" stroke-width="6" stroke-linejoin="round" vector-effect="non-scaling-stroke">a</text>
<text transform="translate(785.0,301.1) rotate(-34.6) skewX(-13) translate(-18.30,-1.5) scale(1.875,1)" x="0" y="0" font-size="160" fill="#e0e0e0" stroke="#e0e0e0" stroke-width="6" stroke-linejoin="round" vector-effect="non-scaling-stroke">r</text>
<text transform="translate(859.1,250.0) rotate(-34.6) skewX(-13) translate(-6.27,-1.5) scale(1.157,1)" x="0" y="0" font-size="160" fill="#e0e0e0" stroke="#e0e0e0" stroke-width="6" stroke-linejoin="round" vector-effect="non-scaling-stroke">e</text>
<text transform="translate(942.2,192.6) rotate(-34.6) skewX(-13) translate(-4.47,-1.5) scale(1.333,1)" x="0" y="0" font-size="160" fill="#e0e0e0" stroke="#e0e0e0" stroke-width="6" stroke-linejoin="round" vector-effect="non-scaling-stroke">s</text>
</g>
<g id="wm-face">
<text transform="translate(152.0,736.0) rotate(-34.6) skewX(-13) translate(-7.35,-1.5) scale(1.316,1)" x="0" y="0" font-size="160" fill="#ffffff" stroke="#ffffff" stroke-width="3" stroke-linejoin="round" vector-effect="non-scaling-stroke">e</text>
<text transform="translate(249.1,669.0) rotate(-34.6) skewX(-13) translate(-12.72,-1.5) scale(1.368,1)" x="0" y="0" font-size="160" fill="#ffffff" stroke="#ffffff" stroke-width="3" stroke-linejoin="round" vector-effect="non-scaling-stroke">u</text>
<text transform="translate(342.1,604.8) rotate(-34.6) skewX(-13) translate(-18.83,-1.5) scale(1.925,1)" x="0" y="0" font-size="160" fill="#ffffff" stroke="#ffffff" stroke-width="3" stroke-linejoin="round" vector-effect="non-scaling-stroke">r</text>
<text transform="translate(417.9,552.6) rotate(-34.6) skewX(-13) translate(-6.95,-1.5) scale(1.258,1)" x="0" y="0" font-size="160" fill="#ffffff" stroke="#ffffff" stroke-width="3" stroke-linejoin="round" vector-effect="non-scaling-stroke">o</text>
<text transform="translate(510.1,489.0) rotate(-34.6) skewX(-13) translate(-4.34,-1.5) scale(1.304,1)" x="0" y="0" font-size="160" fill="#ffffff" stroke="#ffffff" stroke-width="3" stroke-linejoin="round" vector-effect="non-scaling-stroke">s</text>
<text transform="translate(598.1,428.2) rotate(-34.6) skewX(-13) translate(-12.01,-1.5) scale(1.319,1)" x="0" y="0" font-size="160" fill="#ffffff" stroke="#ffffff" stroke-width="3" stroke-linejoin="round" vector-effect="non-scaling-stroke">p</text>
<text transform="translate(692.0,363.5) rotate(-34.6) skewX(-13) translate(-6.26,-1.5) scale(1.155,1)" x="0" y="0" font-size="160" fill="#ffffff" stroke="#ffffff" stroke-width="3" stroke-linejoin="round" vector-effect="non-scaling-stroke">a</text>
<text transform="translate(784.2,299.9) rotate(-34.6) skewX(-13) translate(-18.30,-1.5) scale(1.875,1)" x="0" y="0" font-size="160" fill="#ffffff" stroke="#ffffff" stroke-width="3" stroke-linejoin="round" vector-effect="non-scaling-stroke">r</text>
<text transform="translate(858.3,248.8) rotate(-34.6) skewX(-13) translate(-6.27,-1.5) scale(1.157,1)" x="0" y="0" font-size="160" fill="#ffffff" stroke="#ffffff" stroke-width="3" stroke-linejoin="round" vector-effect="non-scaling-stroke">e</text>
<text transform="translate(941.4,191.4) rotate(-34.6) skewX(-13) translate(-4.47,-1.5) scale(1.333,1)" x="0" y="0" font-size="160" fill="#ffffff" stroke="#ffffff" stroke-width="3" stroke-linejoin="round" vector-effect="non-scaling-stroke">s</text>
</g>
<defs>
<linearGradient id="carg" x1="0" y1="0" x2="0.4" y2="1">
<stop offset="0" stop-color="#c4c4c4"/><stop offset="0.6" stop-color="#b4b4b4"/><stop offset="1" stop-color="#a2a2a2"/>
</linearGradient>
<linearGradient id="carroof" x1="0" y1="0" x2="1" y2="1">
<stop offset="0" stop-color="#d6d6d6"/><stop offset="1" stop-color="#a8a8a8"/>
</linearGradient>
</defs>
<g id="car">
<path d="M296.9,42.5 C296.2,44.7 296.5,45.8 297.3,47.5 C298.0,49.1 299.3,51.0 301.4,52.4 C303.4,53.7 306.8,55.4 309.5,55.6 C312.3,55.9 314.7,55.1 317.7,54.0 C320.7,52.9 323.5,51.4 327.5,49.1 C331.6,46.8 337.8,42.8 342.3,40.1 C346.8,37.4 351.1,35.2 354.5,32.7 C358.0,30.3 361.0,27.7 362.7,25.4 C364.4,23.0 364.9,21.0 364.8,18.8 C364.6,16.6 363.6,14.0 361.9,12.3 C360.2,10.5 357.1,8.9 354.5,8.2 C352.0,7.4 349.2,7.4 346.4,7.8 C343.5,8.2 340.8,9.2 337.4,10.6 C334.0,12.1 329.2,14.3 325.9,16.4 C322.6,18.4 320.5,20.9 317.7,22.9 C315.0,25.0 312.3,26.7 309.5,28.6 C306.8,30.5 303.5,32.0 301.4,34.4 C299.3,36.7 297.5,40.4 296.9,42.5 Z" fill="url(#carg)"/>
<path d="M297.3,44.6 C297.3,45.3 299.3,50.5 301.4,52.4 C303.4,54.2 306.8,55.4 309.5,55.6 C312.3,55.9 314.7,55.1 317.7,54.0 C320.7,52.9 323.5,51.4 327.5,49.1 C331.6,46.8 337.8,42.8 342.3,40.1 C346.8,37.4 351.1,35.2 354.5,32.7 C358.0,30.3 361.0,27.7 362.7,25.4 C364.4,23.0 364.7,20.1 364.8,18.8 C364.8,17.5 363.8,16.8 363.1,17.6 C362.5,18.4 362.3,21.7 360.7,23.7 C359.0,25.8 356.5,27.8 353.3,29.9 C350.1,32.0 345.8,34.2 341.5,36.4 C337.2,38.7 331.5,41.5 327.5,43.4 C323.6,45.3 320.7,46.9 317.7,47.9 C314.7,48.8 312.3,49.1 309.5,49.1 C306.8,49.1 303.4,48.6 301.4,47.9 C299.3,47.1 297.3,43.8 297.3,44.6 Z" fill="#8e8e8e" filter="url(#blur1)" opacity="0.9"/>
<path d="M319.4,27.4 C319.9,25.4 323.7,23.2 327.5,20.9 C331.4,18.5 338.5,14.9 342.3,13.5 C346.1,12.1 348.6,11.9 350.5,12.3 C352.3,12.7 354.6,14.2 353.3,16.0 C352.0,17.7 346.4,20.4 342.7,22.9 C338.9,25.4 333.9,29.4 330.8,31.1 C327.8,32.8 326.2,33.8 324.3,33.1 C322.4,32.5 318.8,29.5 319.4,27.4 Z" fill="#adadad" filter="url(#blur1)" opacity="0.8"/>
<path d="M300.5,38.5 C301.6,36.1 306.7,33.7 309.5,31.9 C312.4,30.1 315.4,27.4 317.7,27.8 C320.0,28.2 322.8,32.2 323.5,34.4 C324.1,36.5 323.7,39.0 321.8,40.9 C319.9,42.8 315.1,45.0 312.0,45.8 C308.9,46.6 304.9,47.0 303.0,45.8 C301.1,44.6 299.5,40.8 300.5,38.5 Z" fill="#c6c6c6" filter="url(#blur1)" opacity="0.7"/>
<ellipse cx="324.6" cy="40.3" rx="4.2" ry="1.5" fill="#e4e4e4" transform="rotate(-30 324.6 40.3)" filter="url(#blur1)"/>
<ellipse cx="309.5" cy="48.7" rx="2.6" ry="1" fill="#d6d6d6" transform="rotate(-18 309.5 48.7)" filter="url(#blur1)"/>
</g>
<path d="M451,222 C447,221 443,214 441,207 C440,202 446,200 450,201 C457,203 461,211 467,215 C472,216 478,214 483,212 C489,208 494,204 500,201 C506,199 512,198 518,197 C524,194 531,190 537,189 C542,189 546,190 550,191 C557,194 566,198 573,201 L577,205" fill="none" stroke="#8a8a8a" stroke-width="1.5" stroke-linecap="round" stroke-linejoin="round"/>
<circle cx="518.5" cy="198.5" r="2" fill="#8a8a8a"/>
<ellipse cx="451.5" cy="222.5" rx="2.3" ry="1.8" fill="#777" transform="rotate(35 451.5 222.5)"/>
<path d="M782,149.5 L778,151 C776,152.5 774,152.5 772,152.5 L737,153.5 C730,154 725,156 720,159 C710,165 700,173 690,180 C650,205 610,228 575,247 C572,249 572,250.5 574,252 C578,255 582,258 585,261 C587,264 589,268 590,272" fill="none" stroke="#8a8a8a" stroke-width="1.5" stroke-linecap="round" stroke-linejoin="round"/>
<ellipse cx="590.5" cy="275" rx="1.8" ry="3" fill="#8a8a8a"/>
<path d="M590.5,278 C590,281 588,283.5 585,285.5 C576,291.5 566,298 558,304 L555,300 L552.5,305 L549.5,301 L545,309" fill="none" stroke="#8a8a8a" stroke-width="1.3" stroke-linecap="round" stroke-linejoin="round"/>
<ellipse cx="539" cy="305" rx="3.2" ry="4.6" fill="none" stroke="#8a8a8a" stroke-width="1.3" transform="rotate(-15 539 305)"/>
<path d="M541,301 C544,303 544,307 541,309" fill="none" stroke="#8a8a8a" stroke-width="1.1"/>
<path d="M535,305 C530,306.5 525,307 520,307.5 L517.5,307.5" fill="none" stroke="#8a8a8a" stroke-width="1.3" stroke-linecap="round" stroke-linejoin="round"/>
<path d="M423,236 C423,240 422,244 425,246 C429,249 434,248.5 438,249 C442,249.5 447,249.5 450,251.5 C455,256 459,262 462.5,267.5 C465,272 466,277 468,280.5 C484,290 501,299 517.5,307.5" fill="none" stroke="#8a8a8a" stroke-width="1.4" stroke-linecap="round" stroke-linejoin="round"/>
<path d="M718.6,201.2 C716.5,203 714,205.5 713,208.5 C712.5,211 713.2,214 713.6,217 L714.2,223.6" fill="none" stroke="#6c6c6c" stroke-width="6.8" stroke-linecap="round" stroke-linejoin="round"/>
<path d="M718.6,201.2 C716.5,203 714,205.5 713,208.5 C712.5,211 713.2,214 713.6,217 L714.2,223.6" fill="none" stroke="#929292" stroke-width="4.49" stroke-linecap="round" stroke-linejoin="round" transform="translate(-0.25,-0.55)"/>
<path d="M718.6,201.2 C716.5,203 714,205.5 713,208.5 C712.5,211 713.2,214 713.6,217 L714.2,223.6" fill="none" stroke="#b2b2b2" stroke-width="1.77" stroke-linecap="round" stroke-linejoin="round" transform="translate(-0.5,-1.1)"/>
<path d="M713.8,267.5 L713.4,276 C713,282 708,287 701.5,291.5 C690,299 680,305 672,309 C655,318 640,327 620,339.4 C608,346.5 596,356 585.5,363 C580,366.5 576,370 571,372.3 C566,375 561,376.8 556.4,376.3 C549,375.5 543,371.5 537.5,369 C533,367 529,365 525.8,364.6" fill="none" stroke="#757575" stroke-width="6.6" stroke-linecap="round" stroke-linejoin="round"/>
<path d="M713.8,267.5 L713.4,276 C713,282 708,287 701.5,291.5 C690,299 680,305 672,309 C655,318 640,327 620,339.4 C608,346.5 596,356 585.5,363 C580,366.5 576,370 571,372.3 C566,375 561,376.8 556.4,376.3 C549,375.5 543,371.5 537.5,369 C533,367 529,365 525.8,364.6" fill="none" stroke="#a3a3a3" stroke-width="4.36" stroke-linecap="round" stroke-linejoin="round" transform="translate(-0.25,-0.55)"/>
<path d="M713.8,267.5 L713.4,276 C713,282 708,287 701.5,291.5 C690,299 680,305 672,309 C655,318 640,327 620,339.4 C608,346.5 596,356 585.5,363 C580,366.5 576,370 571,372.3 C566,375 561,376.8 556.4,376.3 C549,375.5 543,371.5 537.5,369 C533,367 529,365 525.8,364.6" fill="none" stroke="#c8c8c8" stroke-width="1.72" stroke-linecap="round" stroke-linejoin="round" transform="translate(-0.5,-1.1)"/>
<path d="M745,297 C737,297.5 729,297 721.8,296.3 C717,295.5 713,294.5 709.5,296 C706,297.5 704,300 701.5,301.5 C693,307 686,311 678,316 C668,321.5 658,327 649,332 C639,338 630,343.5 620,349.5 C605,358.5 590,368 578,377.6 C570,383 560,389 555.5,393.5 C553.5,395.5 552,398 551.3,401" fill="none" stroke="#8a8a8a" stroke-width="3.4000000000000004" stroke-linecap="round" stroke-linejoin="round"/>
<path d="M745,297 C737,297.5 729,297 721.8,296.3 C717,295.5 713,294.5 709.5,296 C706,297.5 704,300 701.5,301.5 C693,307 686,311 678,316 C668,321.5 658,327 649,332 C639,338 630,343.5 620,349.5 C605,358.5 590,368 578,377.6 C570,383 560,389 555.5,393.5 C553.5,395.5 552,398 551.3,401" fill="none" stroke="#c2c2c2" stroke-width="2.24" stroke-linecap="round" stroke-linejoin="round" transform="translate(-0.25,-0.55)"/>
<path d="M745,297 C737,297.5 729,297 721.8,296.3 C717,295.5 713,294.5 709.5,296 C706,297.5 704,300 701.5,301.5 C693,307 686,311 678,316 C668,321.5 658,327 649,332 C639,338 630,343.5 620,349.5 C605,358.5 590,368 578,377.6 C570,383 560,389 555.5,393.5 C553.5,395.5 552,398 551.3,401" fill="none" stroke="#dedede" stroke-width="0.88" stroke-linecap="round" stroke-linejoin="round" transform="translate(-0.5,-1.1)"/>
<path d="M749.5,307.3 C744,307 739,306 733.5,306 C729,306.3 725.5,309 721.8,311.7 C712,318 702,324.5 692.7,330.6 C683,336 673,341.5 663.6,346.6 C654,352 644,357.5 634.5,362.6 C620,371.5 606,381 592.7,389.3 C587,392.5 581,395.5 577.5,398.5 C574.5,401 573.3,403.5 574.5,406 C576,409 579,411 582,413 C586,415.5 589.5,418.5 592,422.5" fill="none" stroke="#757575" stroke-width="6.2" stroke-linecap="round" stroke-linejoin="round"/>
<path d="M749.5,307.3 C744,307 739,306 733.5,306 C729,306.3 725.5,309 721.8,311.7 C712,318 702,324.5 692.7,330.6 C683,336 673,341.5 663.6,346.6 C654,352 644,357.5 634.5,362.6 C620,371.5 606,381 592.7,389.3 C587,392.5 581,395.5 577.5,398.5 C574.5,401 573.3,403.5 574.5,406 C576,409 579,411 582,413 C586,415.5 589.5,418.5 592,422.5" fill="none" stroke="#a3a3a3" stroke-width="4.09" stroke-linecap="round" stroke-linejoin="round" transform="translate(-0.25,-0.55)"/>
<path d="M749.5,307.3 C744,307 739,306 733.5,306 C729,306.3 725.5,309 721.8,311.7 C712,318 702,324.5 692.7,330.6 C683,336 673,341.5 663.6,346.6 C654,352 644,357.5 634.5,362.6 C620,371.5 606,381 592.7,389.3 C587,392.5 581,395.5 577.5,398.5 C574.5,401 573.3,403.5 574.5,406 C576,409 579,411 582,413 C586,415.5 589.5,418.5 592,422.5" fill="none" stroke="#c8c8c8" stroke-width="1.61" stroke-linecap="round" stroke-linejoin="round" transform="translate(-0.5,-1.1)"/>
<path d="M760.5,307 C766,306 772,305.5 777,306.5 C783,308 787,311.5 792,311.5 C797,311.5 800,308 801.5,305" fill="none" stroke="#757575" stroke-width="7.8" stroke-linecap="round" stroke-linejoin="round"/>
<path d="M760.5,307 C766,306 772,305.5 777,306.5 C783,308 787,311.5 792,311.5 C797,311.5 800,308 801.5,305" fill="none" stroke="#a3a3a3" stroke-width="5.15" stroke-linecap="round" stroke-linejoin="round" transform="translate(-0.25,-0.55)"/>
<path d="M760.5,307 C766,306 772,305.5 777,306.5 C783,308 787,311.5 792,311.5 C797,311.5 800,308 801.5,305" fill="none" stroke="#c8c8c8" stroke-width="2.03" stroke-linecap="round" stroke-linejoin="round" transform="translate(-0.5,-1.1)"/>
<path d="M392.5,388 C394,384 397,381.5 400,380.5 C404,379.5 408,380 411,379 C416,377 418,372.5 422,370.5 C426,368.5 431,368 435,369 C439,370 441,374 443,377.5 C445,381 448,382 451,380.5 C455,378.5 459,374.5 463,372.5 C468,370 472,368.5 476,367.5 C480,366.5 483,366 486,366" fill="none" stroke="#757575" stroke-width="6.3999999999999995" stroke-linecap="round" stroke-linejoin="round"/>
<path d="M392.5,388 C394,384 397,381.5 400,380.5 C404,379.5 408,380 411,379 C416,377 418,372.5 422,370.5 C426,368.5 431,368 435,369 C439,370 441,374 443,377.5 C445,381 448,382 451,380.5 C455,378.5 459,374.5 463,372.5 C468,370 472,368.5 476,367.5 C480,366.5 483,366 486,366" fill="none" stroke="#a3a3a3" stroke-width="4.22" stroke-linecap="round" stroke-linejoin="round" transform="translate(-0.25,-0.55)"/>
<path d="M392.5,388 C394,384 397,381.5 400,380.5 C404,379.5 408,380 411,379 C416,377 418,372.5 422,370.5 C426,368.5 431,368 435,369 C439,370 441,374 443,377.5 C445,381 448,382 451,380.5 C455,378.5 459,374.5 463,372.5 C468,370 472,368.5 476,367.5 C480,366.5 483,366 486,366" fill="none" stroke="#c8c8c8" stroke-width="1.66" stroke-linecap="round" stroke-linejoin="round" transform="translate(-0.5,-1.1)"/>
<path d="M436,371 C436,374 435.5,377 434,379" fill="none" stroke="#757575" stroke-width="4.0" stroke-linecap="round" stroke-linejoin="round"/>
<path d="M436,371 C436,374 435.5,377 434,379" fill="none" stroke="#a3a3a3" stroke-width="2.64" stroke-linecap="round" stroke-linejoin="round" transform="translate(-0.25,-0.55)"/>
<path d="M436,371 C436,374 435.5,377 434,379" fill="none" stroke="#c8c8c8" stroke-width="1.04" stroke-linecap="round" stroke-linejoin="round" transform="translate(-0.5,-1.1)"/>
<path d="M497,361.5 C501,360 505,359.5 509,360 C511,360.5 513,361.5 514,362.5" fill="none" stroke="#757575" stroke-width="6.0" stroke-linecap="round" stroke-linejoin="round"/>
<path d="M497,361.5 C501,360 505,359.5 509,360 C511,360.5 513,361.5 514,362.5" fill="none" stroke="#a3a3a3" stroke-width="3.96" stroke-linecap="round" stroke-linejoin="round" transform="translate(-0.25,-0.55)"/>
<path d="M497,361.5 C501,360 505,359.5 509,360 C511,360.5 513,361.5 514,362.5" fill="none" stroke="#c8c8c8" stroke-width="1.56" stroke-linecap="round" stroke-linejoin="round" transform="translate(-0.5,-1.1)"/>
<path d="M361,411.5 C361,415 361.5,418.5 364,420.5 C367,422.5 371,422.5 375,422.5 C381,422.5 388,422.5 393,424 C398,426 399.5,430 401,435 C402.5,441 403.5,447 406,451 C409,455.5 414,458 419,460.5 C432,467.5 446,475 459,482 C463,484 466,482 468,478.5 C469.5,475.5 470.5,473 471.5,470" fill="none" stroke="#757575" stroke-width="5.6" stroke-linecap="round" stroke-linejoin="round"/>
<path d="M361,411.5 C361,415 361.5,418.5 364,420.5 C367,422.5 371,422.5 375,422.5 C381,422.5 388,422.5 393,424 C398,426 399.5,430 401,435 C402.5,441 403.5,447 406,451 C409,455.5 414,458 419,460.5 C432,467.5 446,475 459,482 C463,484 466,482 468,478.5 C469.5,475.5 470.5,473 471.5,470" fill="none" stroke="#a3a3a3" stroke-width="3.70" stroke-linecap="round" stroke-linejoin="round" transform="translate(-0.25,-0.55)"/>
<path d="M361,411.5 C361,415 361.5,418.5 364,420.5 C367,422.5 371,422.5 375,422.5 C381,422.5 388,422.5 393,424 C398,426 399.5,430 401,435 C402.5,441 403.5,447 406,451 C409,455.5 414,458 419,460.5 C432,467.5 446,475 459,482 C463,484 466,482 468,478.5 C469.5,475.5 470.5,473 471.5,470" fill="none" stroke="#c8c8c8" stroke-width="1.46" stroke-linecap="round" stroke-linejoin="round" transform="translate(-0.5,-1.1)"/>
<path d="M489,450 C486,450.5 483,451 481,452.5 C478.5,455 478,458 477.5,461" fill="none" stroke="#757575" stroke-width="6.0" stroke-linecap="round" stroke-linejoin="round"/>
<path d="M489,450 C486,450.5 483,451 481,452.5 C478.5,455 478,458 477.5,461" fill="none" stroke="#a3a3a3" stroke-width="3.96" stroke-linecap="round" stroke-linejoin="round" transform="translate(-0.25,-0.55)"/>
<path d="M489,450 C486,450.5 483,451 481,452.5 C478.5,455 478,458 477.5,461" fill="none" stroke="#c8c8c8" stroke-width="1.56" stroke-linecap="round" stroke-linejoin="round" transform="translate(-0.5,-1.1)"/>
<path d="M528.5,450 C532,449.5 536,449.8 539.5,450.5" fill="none" stroke="#8d8d8d" stroke-width="4.8" stroke-linecap="round" stroke-linejoin="round"/>
<path d="M528.5,450 C532,449.5 536,449.8 539.5,450.5" fill="none" stroke="#c0c0c0" stroke-width="3.17" stroke-linecap="round" stroke-linejoin="round" transform="translate(-0.25,-0.55)"/>
<path d="M528.5,450 C532,449.5 536,449.8 539.5,450.5" fill="none" stroke="#dcdcdc" stroke-width="1.25" stroke-linecap="round" stroke-linejoin="round" transform="translate(-0.5,-1.1)"/>
<path d="M541.5,452 C541,457 539.5,461.5 536,465.5 C533,469 528,471.5 525,475 C522.5,478 521,482 520.3,485.5" fill="none" stroke="#757575" stroke-width="5.3999999999999995" stroke-linecap="round" stroke-linejoin="round"/>
<path d="M541.5,452 C541,457 539.5,461.5 536,465.5 C533,469 528,471.5 525,475 C522.5,478 521,482 520.3,485.5" fill="none" stroke="#a3a3a3" stroke-width="3.56" stroke-linecap="round" stroke-linejoin="round" transform="translate(-0.25,-0.55)"/>
<path d="M541.5,452 C541,457 539.5,461.5 536,465.5 C533,469 528,471.5 525,475 C522.5,478 521,482 520.3,485.5" fill="none" stroke="#c8c8c8" stroke-width="1.40" stroke-linecap="round" stroke-linejoin="round" transform="translate(-0.5,-1.1)"/>
<path d="M580,441.5 C576,444 571,447.5 565,451 C559,454.5 553,458.5 548,459.5 C544.5,460 542.5,457.5 542,453.5" fill="none" stroke="#757575" stroke-width="7.5" stroke-linecap="round" stroke-linejoin="round"/>
<path d="M580,441.5 C576,444 571,447.5 565,451 C559,454.5 553,458.5 548,459.5 C544.5,460 542.5,457.5 542,453.5" fill="none" stroke="#a3a3a3" stroke-width="4.95" stroke-linecap="round" stroke-linejoin="round" transform="translate(-0.25,-0.55)"/>
<path d="M580,441.5 C576,444 571,447.5 565,451 C559,454.5 553,458.5 548,459.5 C544.5,460 542.5,457.5 542,453.5" fill="none" stroke="#c8c8c8" stroke-width="1.95" stroke-linecap="round" stroke-linejoin="round" transform="translate(-0.5,-1.1)"/>
<path d="M592.4,427 C592.6,429.5 592,432 590.3,434 C589.3,435.2 588,436 586.8,436.6" fill="none" stroke="#676767" stroke-width="7.3999999999999995" stroke-linecap="round" stroke-linejoin="round"/>
<path d="M592.4,427 C592.6,429.5 592,432 590.3,434 C589.3,435.2 588,436 586.8,436.6" fill="none" stroke="#8a8a8a" stroke-width="4.88" stroke-linecap="round" stroke-linejoin="round" transform="translate(-0.25,-0.55)"/>
<path d="M592.4,427 C592.6,429.5 592,432 590.3,434 C589.3,435.2 588,436 586.8,436.6" fill="none" stroke="#a6a6a6" stroke-width="1.92" stroke-linecap="round" stroke-linejoin="round" transform="translate(-0.5,-1.1)"/>
<path d="M395.7,487.5 C395,491 393.5,495.5 392.7,500" fill="none" stroke="#757575" stroke-width="6.3999999999999995" stroke-linecap="round" stroke-linejoin="round"/>
<path d="M395.7,487.5 C395,491 393.5,495.5 392.7,500" fill="none" stroke="#a3a3a3" stroke-width="4.22" stroke-linecap="round" stroke-linejoin="round" transform="translate(-0.25,-0.55)"/>
<path d="M395.7,487.5 C395,491 393.5,495.5 392.7,500" fill="none" stroke="#c8c8c8" stroke-width="1.66" stroke-linecap="round" stroke-linejoin="round" transform="translate(-0.5,-1.1)"/>
<path d="M390.5,516.5 C390,521 389.5,526 391.5,530 C394,534.5 399,536 404,538.5 C416,544.5 428,552 439,559 C443,561.5 447,562 450,559.5 C453.5,556.5 456,552.5 459.5,551 C463,549.8 467,550.5 468.5,553 C469.5,555 469.5,557 468.5,559" fill="none" stroke="#757575" stroke-width="5.3999999999999995" stroke-linecap="round" stroke-linejoin="round"/>
<path d="M390.5,516.5 C390,521 389.5,526 391.5,530 C394,534.5 399,536 404,538.5 C416,544.5 428,552 439,559 C443,561.5 447,562 450,559.5 C453.5,556.5 456,552.5 459.5,551 C463,549.8 467,550.5 468.5,553 C469.5,555 469.5,557 468.5,559" fill="none" stroke="#a3a3a3" stroke-width="3.56" stroke-linecap="round" stroke-linejoin="round" transform="translate(-0.25,-0.55)"/>
<path d="M390.5,516.5 C390,521 389.5,526 391.5,530 C394,534.5 399,536 404,538.5 C416,544.5 428,552 439,559 C443,561.5 447,562 450,559.5 C453.5,556.5 456,552.5 459.5,551 C463,549.8 467,550.5 468.5,553 C469.5,555 469.5,557 468.5,559" fill="none" stroke="#c8c8c8" stroke-width="1.40" stroke-linecap="round" stroke-linejoin="round" transform="translate(-0.5,-1.1)"/>
<rect x="460.3" y="557" width="4.6" height="7.5" rx="1.5" fill="#6f6f6f" stroke="#5a5a5a" stroke-width="0.5"/>
<g id="p9" stroke-linejoin="round">
<path d="M488.7,384.2 L491.3,382.6 L494.2,384.5 L494.6,388 L499,389.6 L504,391 L505,390.6 L505.6,387.2 L507.2,387.2 L507.4,390 L509,389.6 L513,390.3 L517.8,390.4 L524.4,387 L528,389.6 L522.2,394.7 L527,398 L532.4,401.3 L531.6,404.6 L536,408.5 L541,412.2 L540.4,414.4 L536,415.2 L534.3,413 L530,411 L525,407.8 L520.5,405 L516.4,402.7 L512,400.3 L509,399 L504,399.6 L500.4,399.8 L497.5,397.6 L497.3,393.3 L493,390.4 L491,387.5 Z" fill="#7e7e7e" stroke="#6a6a6a" stroke-width="0.6"/>
<path d="M510,392 L518.5,392 L524,389 L526,390 L520.5,395 L529.5,401 L529,403.5 L516.5,400.5 L510,397.5 Z" fill="#727272"/>
<path d="M498.6,393 L503.5,393.4 L505,397.5 L500.5,398.2 Z" fill="#9a9a9a"/>
<circle cx="501" cy="394.8" r="1" fill="#c9c9c9"/><circle cx="504.6" cy="393" r="0.9" fill="#c4c4c4"/>
<path d="M489.6,384.4 L491.4,383.4 L493.3,384.8" fill="none" stroke="#a5a5a5" stroke-width="0.8"/>
<path d="M536.5,410.5 L539.6,412.6" fill="none" stroke="#b5b5b5" stroke-width="0.9"/>
</g>
<path d="M675,355.5 C676,360 678.5,364 682,367 L685.8,369.3 C688,367.5 689.6,365.5 691,363" fill="none" stroke="#6b6b6b" stroke-width="5" stroke-linecap="round" stroke-linejoin="round"/>
<path d="M675,355.5 C676,360 678.5,364 682,367 L685.8,369.3 C688,367.5 689.6,365.5 691,363" fill="none" stroke="#8e8e8e" stroke-width="3.2" stroke-linecap="round" stroke-linejoin="round"/>
<path d="M675,355.5 C676,360 678.5,364 682,367 L685.8,369.3 C688,367.5 689.6,365.5 691,363" fill="none" stroke="#b4b4b4" stroke-width="1" stroke-linecap="round" stroke-linejoin="round" stroke-dasharray="2.5 2"/>
<path d="M643,374 C644,378.5 646.5,382.5 650,385.5 L653.8,387.8 C655.6,386 657,384 658.3,381.3" fill="none" stroke="#6b6b6b" stroke-width="5" stroke-linecap="round" stroke-linejoin="round"/>
<path d="M643,374 C644,378.5 646.5,382.5 650,385.5 L653.8,387.8 C655.6,386 657,384 658.3,381.3" fill="none" stroke="#8e8e8e" stroke-width="3.2" stroke-linecap="round" stroke-linejoin="round"/>
<path d="M643,374 C644,378.5 646.5,382.5 650,385.5 L653.8,387.8 C655.6,386 657,384 658.3,381.3" fill="none" stroke="#b4b4b4" stroke-width="1" stroke-linecap="round" stroke-linejoin="round" stroke-dasharray="2.5 2"/>
<path d="M572.50,181.50 L572.50,200.00" fill="none" stroke="#262626" stroke-width="1.0"/>
<path d="M504.50,204.00 L504.50,212.50" fill="none" stroke="#262626" stroke-width="1.0"/>
<path d="M631.50,202.50 L631.50,212.50" fill="none" stroke="#262626" stroke-width="1.0"/>
<path d="M447.50,274.50 L464.00,274.50" fill="none" stroke="#262626" stroke-width="1.0"/>
<path d="M520.50,281.00 L520.50,306.00" fill="none" stroke="#262626" stroke-width="1.0"/>
<path d="M550.50,271.00 L550.50,299.00" fill="none" stroke="#262626" stroke-width="1.0" stroke-dasharray="5 1.5 1 1.5"/>
<path d="M647.50,266.00 L647.50,275.30" fill="none" stroke="#262626" stroke-width="1.0"/>
<path d="M612.50,279.50 L612.50,275.50 L681.50,275.50 L681.50,279.50" fill="none" stroke="#262626" stroke-width="1.0"/>
<path d="M658.50,277.00 L658.50,311.00" fill="none" stroke="#262626" stroke-width="1.0"/>
<path d="M749.50,188.50 L755.50,188.50 L755.50,226.50 L749.50,226.50" fill="none" stroke="#262626" stroke-width="1.0"/>
<path d="M755.50,207.50 L763.00,207.50" fill="none" stroke="#262626" stroke-width="1.0"/>
<path d="M724.00,204.50 L732.50,204.50" fill="none" stroke="#262626" stroke-width="1.0"/>
<path d="M720.00,219.50 L751.00,219.50" fill="none" stroke="#262626" stroke-width="1.0"/>
<path d="M714.50,226.00 L714.50,237.50" fill="none" stroke="#262626" stroke-width="1.0"/>
<path d="M714.50,257.50 L714.50,266.00" fill="none" stroke="#262626" stroke-width="1.0" stroke-dasharray="4 1.5"/>
<path d="M732.50,286.00 L732.50,293.50" fill="none" stroke="#262626" stroke-width="1.0"/>
<path d="M790.50,261.00 L790.50,268.70" fill="none" stroke="#262626" stroke-width="1.0"/>
<path d="M771.50,273.00 L771.50,268.50 L809.50,268.50 L809.50,273.00" fill="none" stroke="#262626" stroke-width="1.0"/>
<path d="M777.50,269.50 L777.50,301.00" fill="none" stroke="#262626" stroke-width="1.0"/>
<path d="M797.50,290.50 L797.50,301.00" fill="none" stroke="#262626" stroke-width="1.0"/>
<path d="M751.00,307.50 L759.00,307.50" fill="none" stroke="#262626" stroke-width="1.0" stroke-dasharray="3 1.5"/>
<path d="M755.50,309.00 L755.50,329.50" fill="none" stroke="#262626" stroke-width="1.0" stroke-dasharray="5 1.5 1 1.5"/>
<path d="M718.50,315.00 L718.50,384.00" fill="none" stroke="#262626" stroke-width="1.0"/>
<path d="M712.50,381.00 L712.50,386.50 L782.50,386.50 L782.50,381.00" fill="none" stroke="#262626" stroke-width="1.0"/>
<path d="M749.50,387.50 L749.50,393.00" fill="none" stroke="#262626" stroke-width="1.0"/>
<path d="M721.00,314.00 L728.00,324.00" fill="none" stroke="#262626" stroke-width="1.0"/>
<path d="M628.50,322.00 L628.50,364.00" fill="none" stroke="#262626" stroke-width="1.0" stroke-dasharray="5 1.5 1 1.5"/>
<path d="M577.50,338.00 L577.50,372.00" fill="none" stroke="#262626" stroke-width="1.0"/>
<path d="M577.50,346.50 L591.50,346.50 L591.50,384.00" fill="none" stroke="#262626" stroke-width="1.0" stroke-dasharray="5 1.5 1 1.5"/>
<path d="M675.50,309.00 L675.50,352.00" fill="none" stroke="#262626" stroke-width="1.0" stroke-dasharray="5 1.5 1 1.5"/>
<path d="M688.50,332.00 L688.50,359.00" fill="none" stroke="#262626" stroke-width="1.0" stroke-dasharray="5 1.5 1 1.5"/>
<path d="M685.50,372.50 L685.50,404.00" fill="none" stroke="#262626" stroke-width="1.0"/>
<path d="M660.50,384.50 L685.60,384.50" fill="none" stroke="#262626" stroke-width="1.0"/>
<path d="M488.50,314.00 L488.50,321.00" fill="none" stroke="#262626" stroke-width="1.0"/>
<path d="M472.50,326.50 L472.50,321.50 L510.50,321.50 L510.50,326.50" fill="none" stroke="#262626" stroke-width="1.0"/>
<path d="M502.50,323.00 L502.50,355.50" fill="none" stroke="#262626" stroke-width="1.0"/>
<path d="M490.50,345.50 L496.00,357.00" fill="none" stroke="#262626" stroke-width="1.0"/>
<path d="M534.00,349.00 L521.00,361.00" fill="none" stroke="#262626" stroke-width="1.0"/>
<path d="M487.50,364.80 L495.00,363.20" fill="none" stroke="#262626" stroke-width="1.0" stroke-dasharray="3 1.5"/>
<path d="M515.00,362.80 L525.00,364.50" fill="none" stroke="#262626" stroke-width="1.0" stroke-dasharray="3 1.5"/>
<path d="M397.80,334.50 L403.80,341.00" fill="none" stroke="#262626" stroke-width="1.0" stroke-dasharray="2 1.5"/>
<path d="M422.30,360.30 L427.00,364.50" fill="none" stroke="#262626" stroke-width="1.0"/>
<path d="M448.00,336.50 L451.00,341.00" fill="none" stroke="#262626" stroke-width="1.0" stroke-dasharray="2 1.5"/>
<path d="M466.00,362.00 L469.50,365.50" fill="none" stroke="#262626" stroke-width="1.0"/>
<path d="M449.50,385.00 L449.50,396.00" fill="none" stroke="#262626" stroke-width="1.0"/>
<path d="M493.50,391.80 L493.50,410.50" fill="none" stroke="#262626" stroke-width="1.0"/>
<path d="M522.50,410.70 L522.50,421.00" fill="none" stroke="#262626" stroke-width="1.0"/>
<path d="M436.00,376.00 L396.00,484.50" fill="none" stroke="#262626" stroke-width="1.0" stroke-dasharray="5 1.5 1 1.5"/>
<path d="M319.00,431.50 L329.50,431.50" fill="none" stroke="#262626" stroke-width="1.0"/>
<path d="M335.00,404.50 L329.50,404.50 L329.50,459.50 L335.00,459.50" fill="none" stroke="#262626" stroke-width="1.0"/>
<path d="M332.50,421.50 L360.00,421.50" fill="none" stroke="#262626" stroke-width="1.0"/>
<path d="M473.00,437.00 L490.00,446.50" fill="none" stroke="#262626" stroke-width="1.0" stroke-dasharray="5 1.5 1 1.5"/>
<path d="M457.00,451.50 L479.00,451.50" fill="none" stroke="#262626" stroke-width="1.0"/>
<path d="M491.00,450.50 L527.50,450.50" fill="none" stroke="#262626" stroke-width="0.8"/>
<path d="M476.00,463.50 L481.00,468.50" fill="none" stroke="#262626" stroke-width="1.0" stroke-dasharray="2 1.5"/>
<path d="M567.00,426.00 L575.50,440.00" fill="none" stroke="#262626" stroke-width="1.0"/>
<path d="M549.00,453.00 L569.00,464.50" fill="none" stroke="#262626" stroke-width="1.0"/>
<path d="M588.00,481.00 L595.00,484.50" fill="none" stroke="#262626" stroke-width="1.0" stroke-dasharray="2 1.5"/>
<path d="M614.50,494.00 L620.50,497.00" fill="none" stroke="#262626" stroke-width="1.0" stroke-dasharray="2 1.5"/>
<path d="M607.50,401.00 L582.50,407.50" fill="none" stroke="#262626" stroke-width="1.0" stroke-dasharray="5 1.5 1 1.5"/>
<path d="M612.00,420.00 L591.00,420.50" fill="none" stroke="#262626" stroke-width="1.0" stroke-dasharray="5 1.5 1 1.5"/>
<path d="M650.00,425.50 L656.50,425.50 L656.50,457.50 L650.00,457.50" fill="none" stroke="#262626" stroke-width="1.0"/>
<path d="M657.00,441.50 L667.50,441.50" fill="none" stroke="#262626" stroke-width="1.0"/>
<path d="M595.00,432.50 L655.00,432.50" fill="none" stroke="#262626" stroke-width="1.0"/>
<path d="M591.00,436.00 L634.50,443.00" fill="none" stroke="#262626" stroke-width="1.0" stroke-dasharray="5 1.5 1 1.5"/>
<path d="M575.00,448.80 L624.00,466.00" fill="none" stroke="#262626" stroke-width="1.0" stroke-dasharray="5 1.5 1 1.5"/>
<path d="M643.50,472.50 L655.00,476.00" fill="none" stroke="#262626" stroke-width="1.0"/>
<path d="M501.00,497.50 L506.50,497.50" fill="none" stroke="#262626" stroke-width="1.0"/>
<path d="M512.50,476.50 L506.50,476.50 L506.50,518.50 L512.50,518.50" fill="none" stroke="#262626" stroke-width="1.0"/>
<path d="M510.00,478.50 L519.00,478.50" fill="none" stroke="#262626" stroke-width="1.0"/>
<path d="M537.50,465.00 L546.00,468.00 L546.80,478.50" fill="none" stroke="#262626" stroke-width="1.0"/>
<path d="M546.50,498.00 L546.50,506.50" fill="none" stroke="#262626" stroke-width="1.0" stroke-dasharray="3 1.5"/>
<path d="M373.00,481.00 L392.50,485.50" fill="none" stroke="#262626" stroke-width="1.0" stroke-dasharray="5 1.5 1 1.5"/>
<path d="M400.00,496.50 L417.50,496.50" fill="none" stroke="#262626" stroke-width="1.0"/>
<path d="M368.80,508.50 L390.00,508.50" fill="none" stroke="#262626" stroke-width="1.0"/>
<path d="M391.50,502.00 L391.50,515.00" fill="none" stroke="#262626" stroke-width="1.0" stroke-dasharray="2 1.5"/>
<path d="M418.50,550.00 L418.50,587.50" fill="none" stroke="#262626" stroke-width="1.0"/>
<path d="M388.50,587.50 L388.50,592.50 L457.50,592.50 L457.50,587.50" fill="none" stroke="#262626" stroke-width="1.0"/>
<path d="M422.50,593.00 L422.50,600.00" fill="none" stroke="#262626" stroke-width="1.0"/>
<rect x="562.80" y="162.30" width="18.4" height="18.4" fill="none" stroke="#1c1c1c" stroke-width="1.25"/>
<text x="572.00" y="175.20" font-size="10.8" fill="#2c2c2c" stroke="#2c2c2c" stroke-width="0.25" text-anchor="middle" textLength="10.4" lengthAdjust="spacingAndGlyphs">32</text>
<rect x="511.80" y="261.80" width="18.4" height="18.4" fill="#e2e2e2" stroke="#1c1c1c" stroke-width="1.25"/>
<text x="521.00" y="274.70" font-size="10.8" fill="#2c2c2c" stroke="#2c2c2c" stroke-width="0.25" text-anchor="middle" textLength="10.4" lengthAdjust="spacingAndGlyphs">33</text>
<rect x="540.80" y="251.30" width="18.4" height="18.4" fill="#e2e2e2" stroke="#1c1c1c" stroke-width="1.25"/>
<text x="550.00" y="264.20" font-size="10.8" fill="#2c2c2c" stroke="#2c2c2c" stroke-width="0.25" text-anchor="middle" textLength="10.4" lengthAdjust="spacingAndGlyphs">31</text>
<rect x="733.80" y="193.80" width="18.4" height="18.4" fill="#ececec" stroke="#1c1c1c" stroke-width="1.25"/>
<text x="743.00" y="206.70" font-size="10.8" fill="#2c2c2c" stroke="#2c2c2c" stroke-width="0.25" text-anchor="middle" textLength="10.4" lengthAdjust="spacingAndGlyphs">34</text>
<rect x="704.30" y="238.30" width="18.4" height="18.4" fill="#f2f2f2" stroke="#1c1c1c" stroke-width="1.25"/>
<text x="713.50" y="251.20" font-size="10.8" fill="#2c2c2c" stroke="#2c2c2c" stroke-width="0.25" text-anchor="middle" textLength="5.2" lengthAdjust="spacingAndGlyphs">6</text>
<rect x="788.30" y="271.80" width="18.4" height="18.4" fill="#e2e2e2" stroke="#1c1c1c" stroke-width="1.25"/>
<text x="797.50" y="284.70" font-size="10.8" fill="#2c2c2c" stroke="#2c2c2c" stroke-width="0.25" text-anchor="middle" textLength="10.4" lengthAdjust="spacingAndGlyphs">34</text>
<rect x="722.80" y="324.30" width="18.4" height="18.4" fill="#e2e2e2" stroke="#1c1c1c" stroke-width="1.25"/>
<text x="732.00" y="337.20" font-size="10.8" fill="#2c2c2c" stroke="#2c2c2c" stroke-width="0.25" text-anchor="middle" textLength="10.4" lengthAdjust="spacingAndGlyphs">17</text>
<rect x="745.30" y="330.30" width="18.4" height="18.4" fill="none" stroke="#1c1c1c" stroke-width="1.25"/>
<text x="754.50" y="343.20" font-size="10.8" fill="#2c2c2c" stroke="#2c2c2c" stroke-width="0.25" text-anchor="middle" textLength="5.2" lengthAdjust="spacingAndGlyphs">6</text>
<rect x="618.30" y="302.30" width="18.4" height="18.4" fill="none" stroke="#1c1c1c" stroke-width="1.25"/>
<text x="627.50" y="315.20" font-size="10.8" fill="#2c2c2c" stroke="#2c2c2c" stroke-width="0.25" text-anchor="middle" textLength="10.4" lengthAdjust="spacingAndGlyphs">17</text>
<rect x="568.10" y="318.80" width="18.4" height="18.4" fill="none" stroke="#1c1c1c" stroke-width="1.25"/>
<text x="577.30" y="331.70" font-size="10.8" fill="#2c2c2c" stroke="#2c2c2c" stroke-width="0.25" text-anchor="middle" textLength="5.2" lengthAdjust="spacingAndGlyphs">8</text>
<rect x="379.30" y="315.30" width="18.4" height="18.4" fill="none" stroke="#1c1c1c" stroke-width="1.25"/>
<text x="388.50" y="328.20" font-size="10.8" fill="#2c2c2c" stroke="#2c2c2c" stroke-width="0.25" text-anchor="middle" textLength="10.4" lengthAdjust="spacingAndGlyphs">18</text>
<rect x="403.80" y="341.80" width="18.4" height="18.4" fill="none" stroke="#1c1c1c" stroke-width="1.25"/>
<text x="413.00" y="354.70" font-size="10.8" fill="#2c2c2c" stroke="#2c2c2c" stroke-width="0.25" text-anchor="middle" textLength="10.4" lengthAdjust="spacingAndGlyphs">15</text>
<rect x="430.30" y="316.80" width="18.4" height="18.4" fill="none" stroke="#1c1c1c" stroke-width="1.25"/>
<text x="439.50" y="329.70" font-size="10.8" fill="#2c2c2c" stroke="#2c2c2c" stroke-width="0.25" text-anchor="middle" textLength="10.4" lengthAdjust="spacingAndGlyphs">19</text>
<rect x="449.60" y="342.80" width="18.4" height="18.4" fill="#cfcfcf" stroke="#1c1c1c" stroke-width="1.25"/>
<text x="458.80" y="355.70" font-size="10.8" fill="#2c2c2c" stroke="#2c2c2c" stroke-width="0.25" text-anchor="middle" textLength="10.4" lengthAdjust="spacingAndGlyphs">16</text>
<rect x="474.80" y="325.80" width="18.4" height="18.4" fill="#e2e2e2" stroke="#1c1c1c" stroke-width="1.25"/>
<text x="484.00" y="338.70" font-size="10.8" fill="#2c2c2c" stroke="#2c2c2c" stroke-width="0.25" text-anchor="middle" textLength="10.4" lengthAdjust="spacingAndGlyphs">34</text>
<rect x="533.30" y="330.80" width="18.4" height="18.4" fill="none" stroke="#1c1c1c" stroke-width="1.25"/>
<text x="542.50" y="343.70" font-size="10.8" fill="#2c2c2c" stroke="#2c2c2c" stroke-width="0.25" text-anchor="middle" textLength="5.2" lengthAdjust="spacingAndGlyphs">6</text>
<rect x="484.80" y="410.80" width="18.4" height="18.4" fill="#f1f1f1" stroke="#1c1c1c" stroke-width="1.25"/>
<text x="494.00" y="423.70" font-size="10.8" fill="#2c2c2c" stroke="#2c2c2c" stroke-width="0.25" text-anchor="middle" textLength="10.4" lengthAdjust="spacingAndGlyphs">10</text>
<rect x="453.80" y="421.80" width="18.4" height="18.4" fill="none" stroke="#1c1c1c" stroke-width="1.25"/>
<text x="463.00" y="434.70" font-size="10.8" fill="#2c2c2c" stroke="#2c2c2c" stroke-width="0.25" text-anchor="middle" textLength="5.2" lengthAdjust="spacingAndGlyphs">7</text>
<rect x="552.30" y="406.80" width="18.4" height="18.4" fill="none" stroke="#1c1c1c" stroke-width="1.25"/>
<text x="561.50" y="419.70" font-size="10.8" fill="#2c2c2c" stroke="#2c2c2c" stroke-width="0.25" text-anchor="middle" textLength="10.4" lengthAdjust="spacingAndGlyphs">17</text>
<rect x="608.10" y="389.30" width="18.4" height="18.4" fill="none" stroke="#1c1c1c" stroke-width="1.25"/>
<text x="617.30" y="402.20" font-size="10.8" fill="#2c2c2c" stroke="#2c2c2c" stroke-width="0.25" text-anchor="middle" textLength="10.4" lengthAdjust="spacingAndGlyphs">17</text>
<rect x="612.30" y="411.10" width="18.4" height="18.4" fill="none" stroke="#1c1c1c" stroke-width="1.25"/>
<text x="621.50" y="424.00" font-size="10.8" fill="#2c2c2c" stroke="#2c2c2c" stroke-width="0.25" text-anchor="middle" textLength="5.2" lengthAdjust="spacingAndGlyphs">6</text>
<rect x="634.80" y="435.80" width="18.4" height="18.4" fill="none" stroke="#1c1c1c" stroke-width="1.25"/>
<text x="644.00" y="448.70" font-size="10.8" fill="#2c2c2c" stroke="#2c2c2c" stroke-width="0.25" text-anchor="middle" textLength="10.4" lengthAdjust="spacingAndGlyphs">34</text>
<rect x="624.60" y="459.80" width="18.4" height="18.4" fill="none" stroke="#1c1c1c" stroke-width="1.25"/>
<text x="633.80" y="472.70" font-size="10.8" fill="#2c2c2c" stroke="#2c2c2c" stroke-width="0.25" text-anchor="middle" textLength="10.4" lengthAdjust="spacingAndGlyphs">16</text>
<rect x="655.30" y="469.80" width="18.4" height="18.4" fill="none" stroke="#1c1c1c" stroke-width="1.25"/>
<text x="664.50" y="482.70" font-size="10.8" fill="#2c2c2c" stroke="#2c2c2c" stroke-width="0.25" text-anchor="middle" textLength="10.4" lengthAdjust="spacingAndGlyphs">19</text>
<rect x="569.30" y="462.30" width="18.4" height="18.4" fill="none" stroke="#1c1c1c" stroke-width="1.25"/>
<text x="578.50" y="475.20" font-size="10.8" fill="#2c2c2c" stroke="#2c2c2c" stroke-width="0.25" text-anchor="middle" textLength="10.4" lengthAdjust="spacingAndGlyphs">26</text>
<rect x="595.80" y="477.80" width="18.4" height="18.4" fill="none" stroke="#1c1c1c" stroke-width="1.25"/>
<text x="605.00" y="490.70" font-size="10.8" fill="#2c2c2c" stroke="#2c2c2c" stroke-width="0.25" text-anchor="middle" textLength="10.4" lengthAdjust="spacingAndGlyphs">25</text>
<rect x="620.80" y="492.30" width="18.4" height="18.4" fill="none" stroke="#1c1c1c" stroke-width="1.25"/>
<text x="630.00" y="505.20" font-size="10.8" fill="#2c2c2c" stroke="#2c2c2c" stroke-width="0.25" text-anchor="middle" textLength="10.4" lengthAdjust="spacingAndGlyphs">27</text>
<rect x="481.30" y="467.80" width="18.4" height="18.4" fill="#eeeeee" stroke="#1c1c1c" stroke-width="1.25"/>
<text x="490.50" y="480.70" font-size="10.8" fill="#2c2c2c" stroke="#2c2c2c" stroke-width="0.25" text-anchor="middle" textLength="10.4" lengthAdjust="spacingAndGlyphs">24</text>
<rect x="537.40" y="479.30" width="18.4" height="18.4" fill="none" stroke="#1c1c1c" stroke-width="1.25"/>
<text x="546.60" y="492.20" font-size="10.8" fill="#2c2c2c" stroke="#2c2c2c" stroke-width="0.25" text-anchor="middle" textLength="10.4" lengthAdjust="spacingAndGlyphs">15</text>
<rect x="537.40" y="506.80" width="18.4" height="18.4" fill="none" stroke="#1c1c1c" stroke-width="1.25"/>
<text x="546.60" y="519.70" font-size="10.8" fill="#2c2c2c" stroke="#2c2c2c" stroke-width="0.25" text-anchor="middle" textLength="10.4" lengthAdjust="spacingAndGlyphs">18</text>
<rect x="353.80" y="469.30" width="18.4" height="18.4" fill="none" stroke="#1c1c1c" stroke-width="1.25"/>
<text x="363.00" y="482.20" font-size="10.8" fill="#2c2c2c" stroke="#2c2c2c" stroke-width="0.25" text-anchor="middle" textLength="5.2" lengthAdjust="spacingAndGlyphs">7</text>
<rect x="349.30" y="498.80" width="18.4" height="18.4" fill="#f1f1f1" stroke="#1c1c1c" stroke-width="1.25"/>
<text x="358.50" y="511.70" font-size="10.8" fill="#2c2c2c" stroke="#2c2c2c" stroke-width="0.25" text-anchor="middle" textLength="10.4" lengthAdjust="spacingAndGlyphs">24</text>
<text x="504.00" y="225.80" font-size="14" font-weight="bold" fill="#111" text-anchor="middle">30</text>
<text x="630.50" y="197.80" font-size="14" font-weight="bold" fill="#111" text-anchor="middle">29</text>
<text x="435.50" y="278.80" font-size="14" font-weight="bold" fill="#111" text-anchor="middle">28</text>
<text x="646.00" y="261.60" font-size="14" font-weight="bold" fill="#111" text-anchor="middle">1</text>
<text x="769.50" y="212.30" font-size="14" font-weight="bold" fill="#111" text-anchor="middle">3</text>
<text x="731.80" y="279.80" font-size="14" font-weight="bold" fill="#111" text-anchor="middle">12</text>
<text x="790.00" y="257.80" font-size="14" font-weight="bold" fill="#111" text-anchor="middle">4</text>
<text x="488.00" y="311.30" font-size="14" font-weight="bold" fill="#111" text-anchor="middle">5</text>
<text x="449.00" y="408.80" font-size="14" font-weight="bold" fill="#111" text-anchor="middle">14</text>
<text x="522.00" y="433.80" font-size="14" font-weight="bold" fill="#111" text-anchor="middle">9</text>
<text x="685.80" y="418.80" font-size="14" font-weight="bold" fill="#111" text-anchor="middle">11</text>
<text x="749.00" y="405.80" font-size="14" font-weight="bold" fill="#111" text-anchor="middle">2</text>
<text x="673.80" y="446.80" font-size="14" font-weight="bold" fill="#111" text-anchor="middle">5</text>
<text x="447.50" y="457.10" font-size="14" font-weight="bold" fill="#111" text-anchor="middle">23</text>
<text x="306.00" y="436.80" font-size="14" font-weight="bold" fill="#111" text-anchor="middle">21</text>
<text x="343.00" y="417.80" font-size="14" font-weight="bold" fill="#111" text-anchor="middle">24</text>
<text x="343.00" y="437.30" font-size="14" font-weight="bold" fill="#111" text-anchor="middle">22</text>
<text x="339.00" y="454.30" font-size="14" font-weight="bold" fill="#111" text-anchor="middle">7</text>
<text x="428.80" y="501.80" font-size="14" font-weight="bold" fill="#111" text-anchor="middle">22</text>
<text x="491.00" y="502.30" font-size="14" font-weight="bold" fill="#111" text-anchor="middle">13</text>
<text x="517.50" y="507.30" font-size="14" font-weight="bold" fill="#111" text-anchor="middle">17</text>
<text x="422.50" y="615.60" font-size="14" font-weight="bold" fill="#111" text-anchor="middle">20</text>
<text x="400.80" y="587.80" font-size="14" font-weight="bold" fill="#111" text-anchor="middle">22</text>
<text x="426.80" y="587.80" font-size="14" font-weight="bold" fill="#111" text-anchor="middle">7</text>
<text x="445.00" y="587.80" font-size="14" font-weight="bold" fill="#111" text-anchor="middle">24</text>
<text x="622.00" y="289.30" font-size="14" font-weight="bold" fill="#111" text-anchor="middle">3</text>
<text x="634.00" y="289.30" font-size="14" font-weight="bold" fill="#111" text-anchor="middle">5</text>
<text x="646.00" y="289.30" font-size="14" font-weight="bold" fill="#111" text-anchor="middle">6</text>
<text x="669.50" y="289.30" font-size="14" font-weight="bold" fill="#111" text-anchor="middle">34</text>
<text x="725.00" y="383.60" font-size="14" font-weight="bold" fill="#111" text-anchor="middle">4</text>
<text x="737.50" y="383.60" font-size="14" font-weight="bold" fill="#111" text-anchor="middle">5</text>
<text x="750.00" y="383.60" font-size="14" font-weight="bold" fill="#111" text-anchor="middle">6</text>
<text x="769.50" y="383.60" font-size="14" font-weight="bold" fill="#111" text-anchor="middle">34</text>
<g id="table" fill="none" stroke="#111" stroke-width="1.2">
<rect x="287.2" y="690.9" width="524.8" height="90.1"/>
<path d="M287.2,736.1 H812.0"/>
<path d="M352.8,690.9 V781.0"/>
<path d="M418.4,690.9 V781.0"/>
<path d="M484.0,690.9 V781.0"/>
<path d="M549.6,690.9 V781.0"/>
<path d="M615.2,690.9 V781.0"/>
<path d="M680.8,690.9 V781.0"/>
<path d="M746.4,690.9 V781.0"/>
<path d="M746.4,690.9 V645.8 H812.0 V690.9"/>
</g>
<text x="290.4" y="703.1" font-size="12.3" fill="#1a1a1a">33</text>
<text x="356.0" y="703.1" font-size="12.3" fill="#1a1a1a">32</text>
<text x="421.6" y="703.1" font-size="12.3" fill="#1a1a1a">31</text>
<text x="487.2" y="703.1" font-size="12.3" fill="#1a1a1a">27</text>
<text x="552.8" y="703.1" font-size="12.3" fill="#1a1a1a">26</text>
<text x="618.4" y="703.1" font-size="12.3" fill="#1a1a1a">25</text>
<text x="684.0" y="703.1" font-size="12.3" fill="#1a1a1a">24</text>
<text x="749.6" y="703.1" font-size="12.3" fill="#1a1a1a">19</text>
<text x="290.4" y="748.3" font-size="12.3" fill="#1a1a1a">18</text>
<text x="356.0" y="748.3" font-size="12.3" fill="#1a1a1a">17</text>
<text x="421.6" y="748.3" font-size="12.3" fill="#1a1a1a">16</text>
<text x="487.2" y="748.3" font-size="12.3" fill="#1a1a1a">15</text>
<text x="552.8" y="748.3" font-size="12.3" fill="#1a1a1a">10</text>
<text x="618.4" y="748.3" font-size="12.3" fill="#1a1a1a">8</text>
<text x="684.0" y="748.3" font-size="12.3" fill="#1a1a1a">7</text>
<text x="749.6" y="748.3" font-size="12.3" fill="#1a1a1a">6</text>
<text x="749.6" y="658.0" font-size="12.3" fill="#1a1a1a">34</text>
<defs>
<linearGradient id="mg" x1="0" y1="0" x2="1" y2="1"><stop offset="0" stop-color="#c4c4c4"/><stop offset="0.55" stop-color="#a2a2a2"/><stop offset="1" stop-color="#7d7d7d"/></linearGradient>
<linearGradient id="mg2" x1="0" y1="0" x2="0" y2="1"><stop offset="0" stop-color="#cfcfcf"/><stop offset="0.5" stop-color="#a8a8a8"/><stop offset="1" stop-color="#8a8a8a"/></linearGradient>
<linearGradient id="shaft" x1="0" y1="0" x2="0" y2="1"><stop offset="0" stop-color="#c6c6c6"/><stop offset="0.45" stop-color="#b0b0b0"/><stop offset="1" stop-color="#858585"/></linearGradient>
<radialGradient id="headg" cx="0.35" cy="0.35" r="0.8"><stop offset="0" stop-color="#c2c2c2"/><stop offset="0.6" stop-color="#9e9e9e"/><stop offset="1" stop-color="#7a7a7a"/></radialGradient>
</defs>
<defs><linearGradient id="bg304" x1="0" y1="0" x2="0" y2="1"><stop offset="0" stop-color="#c9c9c9"/><stop offset="0.45" stop-color="#b3b3b3"/><stop offset="1" stop-color="#8b8b8b"/></linearGradient></defs>
<g transform="translate(304.6,765.6) rotate(-23.6)">
<path d="M5.2,-4.1 H42.9 Q45.4,-4.1 45.4,0 Q45.4,4.1 42.9,4.1 H5.2 Z" fill="url(#bg304)" stroke="#8b8b8b" stroke-width="0.4"/>
<ellipse cx="6.0" cy="0" rx="3.3" ry="8.2" fill="#8b8b8b" stroke="#6a6a6a" stroke-width="0.4"/>
<ellipse cx="4.8" cy="0" rx="3.3" ry="8.2" fill="#b3b3b3" stroke="#777" stroke-width="0.4"/>
<path d="M0,-6.6 H5.2 V6.6 H0 Z" fill="url(#bg304)" stroke="#8b8b8b" stroke-width="0.4"/>
<ellipse cx="0" cy="0" rx="3.2" ry="6.6" fill="#b3b3b3" stroke="#727272" stroke-width="0.5"/>
<ellipse cx="-0.3" cy="-0.7" rx="2.4" ry="5.1" fill="#c9c9c9" opacity="0.75"/>
</g>
<defs><linearGradient id="bg508" x1="0" y1="0" x2="0" y2="1"><stop offset="0" stop-color="#c9c9c9"/><stop offset="0.45" stop-color="#b3b3b3"/><stop offset="1" stop-color="#8b8b8b"/></linearGradient></defs>
<g transform="translate(508.5,715.2) rotate(-20.2)">
<path d="M6,-5.4 H28.6 Q31.9,-5.4 31.9,0 Q31.9,5.4 28.6,5.4 H6 Z" fill="url(#bg508)" stroke="#8b8b8b" stroke-width="0.4"/>
<ellipse cx="3.7" cy="0" rx="6.2" ry="10" fill="#8b8b8b" stroke="#666" stroke-width="0.4"/>
<ellipse cx="1.2" cy="0" rx="6.2" ry="10" fill="url(#bg508)" stroke="#6e6e6e" stroke-width="0.5"/>
<ellipse cx="0.3" cy="-0.8" rx="4.2" ry="7.4" fill="#b3b3b3" stroke="#8b8b8b" stroke-width="0.4"/>
<ellipse cx="0" cy="0" rx="2.0" ry="4.0" fill="#8b8b8b" stroke="#666" stroke-width="0.4"/>
</g>
<defs><linearGradient id="bg572" x1="0" y1="0" x2="0" y2="1"><stop offset="0" stop-color="#b2b2b2"/><stop offset="0.45" stop-color="#8f8f8f"/><stop offset="1" stop-color="#6e6e6e"/></linearGradient></defs>
<g transform="translate(572,763.8) rotate(-29.6)">
<path d="M7.5,-6.1 H33.2 Q36.8,-6.1 36.8,0 Q36.8,6.1 33.2,6.1 H7.5 Z" fill="url(#bg572)" stroke="#6e6e6e" stroke-width="0.4"/>
<ellipse cx="4.7" cy="0" rx="7.8" ry="12.6" fill="#6e6e6e" stroke="#666" stroke-width="0.4"/>
<ellipse cx="1.5" cy="0" rx="7.8" ry="12.6" fill="url(#bg572)" stroke="#6e6e6e" stroke-width="0.5"/>
<ellipse cx="0.4" cy="-1.0" rx="5.3" ry="9.3" fill="#8f8f8f" stroke="#6e6e6e" stroke-width="0.4"/>
<ellipse cx="0" cy="0" rx="2.5" ry="5.0" fill="#6e6e6e" stroke="#666" stroke-width="0.4"/>
</g>
<defs><linearGradient id="bg762" x1="0" y1="0" x2="0" y2="1"><stop offset="0" stop-color="#c9c9c9"/><stop offset="0.45" stop-color="#b3b3b3"/><stop offset="1" stop-color="#8b8b8b"/></linearGradient></defs>
<g transform="translate(762.4,721.3) rotate(-19.9)">
<path d="M5,-5.1 H33.7 Q36.8,-5.1 36.8,0 Q36.8,5.1 33.7,5.1 H5 Z" fill="url(#bg762)" stroke="#8b8b8b" stroke-width="0.4"/>
<ellipse cx="5.8" cy="0" rx="4.1" ry="10.2" fill="#8b8b8b" stroke="#6a6a6a" stroke-width="0.4"/>
<ellipse cx="4.6" cy="0" rx="4.1" ry="10.2" fill="#b3b3b3" stroke="#777" stroke-width="0.4"/>
<path d="M0,-7 H5 V7 H0 Z" fill="url(#bg762)" stroke="#8b8b8b" stroke-width="0.4"/>
<ellipse cx="0" cy="0" rx="3.4" ry="7" fill="#b3b3b3" stroke="#727272" stroke-width="0.5"/>
<ellipse cx="-0.4" cy="-0.7" rx="2.5" ry="5.5" fill="#c9c9c9" opacity="0.75"/>
</g>
<g transform="translate(588,713.8) rotate(-31)">
<ellipse rx="10.4" ry="16.3" fill="none" stroke="#8589b8" stroke-width="4.6"/>
<ellipse rx="10.4" ry="16.3" fill="none" stroke="#b9b9bf" stroke-width="3.2"/>
<ellipse rx="10.4" ry="16.3" fill="none" stroke="#dcdce2" stroke-width="1.1" transform="translate(-0.5,-0.4)"/>
</g>
<path d="M700.40,703.00 L704.00,702.40 L705.80,704.80 L710.00,700.60 L714.80,697.00 L719.60,696.40 L725.60,698.20 L730.40,703.00 L732.80,710.20 L732.20,717.40 L729.20,723.40 L724.40,727.60 L718.40,730.00 L712.40,729.40 L706.40,726.40 L702.20,724.60 L700.40,722.20 L702.20,719.20 L700.40,715.00 L701.60,709.00 L700.40,706.60 Z" fill="#a2a2a2" stroke="#7a7a7a" stroke-width="0.5" stroke-linejoin="round" stroke-linecap="round"/>
<ellipse cx="715.5" cy="712.8" rx="10.6" ry="13.7" fill="#fff" stroke="#858585" stroke-width="0.5" transform="rotate(-14 715.5 712.8)"/>
<path d="M714.80,697.00 L719.60,696.40 L725.60,698.20 L730.40,703.00 L732.80,710.20 L732.20,717.40 L729.20,723.40 L728.00,717.40 L727.40,709.00 L724.40,702.40 L719.60,698.80 Z" fill="#8c8c8c" stroke="none" stroke-width="0.5" stroke-linejoin="round" stroke-linecap="round"/>
<path d="M700.40,703.00 L704.00,702.40 L705.80,704.80 L704.60,710.20 L705.20,719.20 L707.00,725.20 L702.20,724.60 L700.40,722.20 L702.20,719.20 L700.40,715.00 L701.60,709.00 L700.40,706.60 Z" fill="#b4b4b4" stroke="#808080" stroke-width="0.4" stroke-linejoin="round" stroke-linecap="round"/>
<path d="M715.40,697.00 L717.80,696.04 L720.20,696.76" fill="none" stroke="#8a8a8a" stroke-width="0.9" stroke-linejoin="round" stroke-linecap="round"/>
<g transform="translate(780.6,758.9) rotate(-33)">
<ellipse cx="2.4" cy="0" rx="12.6" ry="19" fill="#8b8b8b" stroke="#6e6e6e" stroke-width="0.5"/>
<ellipse cx="-2.2" cy="0" rx="12.6" ry="19" fill="#b5b5b5" stroke="#777" stroke-width="0.5"/>
<ellipse cx="-1.6" cy="0" rx="10.8" ry="17" fill="#fff" stroke="#8a8a8a" stroke-width="0.5"/>
<path d="M8,-14.5 C12.5,-7 13.5,4 10.5,13" fill="none" stroke="#a6a6a6" stroke-width="3.4"/>
<path d="M9.5,-9 L13.8,-8 M11.6,-2 L15,-1.6" fill="none" stroke="#777" stroke-width="0.5"/>
</g>
<path d="M796,658.2 L790,657.4 C786,655.4 782,653.6 778.6,652.6 C776.5,656 774.6,660 774.1,663.4 C774.4,668 775.4,673 776.8,676.9 C781,679.2 786.5,681.6 791.2,683.2 L795.8,684.2" fill="none" stroke="#9a9a9a" stroke-width="1.1" stroke-linecap="round"/>
<path d="M723.8,746.8 L719.6,745.6 C714.5,743.8 709.5,742 705.2,740.8 C703.4,744 702,748 701.6,751 C702,755.5 703,759.5 704,763 C708.5,766.2 713.5,769.4 718.4,772 L722.6,772.6" fill="none" stroke="#9a9a9a" stroke-width="1.1" stroke-linecap="round"/>
<path d="M622.80,728.80 L624.00,725.80 L627.00,724.60 L628.80,721.60 L633.00,719.20 L635.40,715.00 L639.00,712.60 L640.20,706.60 L643.80,703.60 L648.60,704.20 L651.00,702.40 L664.20,695.20 L669.00,694.60 L670.80,698.20 L671.40,706.60 L667.80,710.20 L661.80,713.20 L664.20,716.80 L667.20,721.00 L667.80,727.00 L664.20,730.60 L659.40,730.00 L655.80,725.80 L654.60,721.00 L651.00,722.80 L645.00,725.80 L641.40,723.40 L635.40,725.80 L630.60,727.00 L627.00,728.80 L624.00,730.00 Z" fill="url(#mg)" stroke="#686868" stroke-width="0.5" stroke-linejoin="round" stroke-linecap="round"/>
<path d="M640.20,706.60 L643.80,703.60 L648.60,704.20 L651.24,712.60 L650.04,721.00 L645.00,725.80 L641.40,723.40 L639.96,715.00 Z" fill="#7a7a7a" stroke="#666" stroke-width="0.4" stroke-linejoin="round" stroke-linecap="round"/>
<path d="M651.00,702.40 L664.20,695.20 L669.00,694.60 L670.44,697.96 L657.00,705.16 L651.96,706.36 Z" fill="#9c9c9c" stroke="none" stroke-width="0.5" stroke-linejoin="round" stroke-linecap="round"/>
<path d="M633.00,719.20 L635.40,715.00 L639.00,712.60 L639.60,722.44 L635.40,725.56 L633.60,723.40 Z" fill="#b0b0b0" stroke="#777" stroke-width="0.3" stroke-linejoin="round" stroke-linecap="round"/>
<path d="M627.00,724.60 L628.80,721.60 L633.00,719.56 L633.48,725.80 L630.60,727.00 L627.60,728.44 Z" fill="#9a9a9a" stroke="#777" stroke-width="0.3" stroke-linejoin="round" stroke-linecap="round"/>
<ellipse cx="662.8" cy="723.2" rx="2.0" ry="3.6" fill="#fff" stroke="#6e6e6e" stroke-width="0.5" transform="rotate(-28 662.8 723.2)"/>
<path d="M310.40,700.00 L317.00,695.20 L323.00,696.40 L326.60,700.60 L330.20,698.20 L334.40,695.20 L340.40,699.40 L339.80,704.80 L335.60,706.00 L332.00,704.20 L330.80,710.20 L333.20,712.00 L335.00,716.20 L338.00,714.40 L339.20,716.20 L336.20,719.80 L333.20,721.00 L330.20,720.40 L329.00,725.20 L329.60,728.80 L330.80,731.80 L328.40,734.20 L326.60,732.40 L327.20,728.20 L323.00,727.00 L317.60,726.40 L314.60,725.80 L315.20,720.40 L314.00,718.60 L317.00,716.80 L316.40,713.80 L310.40,712.00 L309.80,710.80 L315.80,709.00 L317.60,704.20 L315.20,701.20 L311.00,701.80 Z" fill="#909090" stroke="#6e6e6e" stroke-width="0.5" stroke-linejoin="round" stroke-linecap="round"/>
<path d="M310.40,700.00 L317.00,695.20 L323.00,696.40 L326.00,700.84 L321.80,703.00 L317.60,704.20 L315.20,701.20 L311.00,701.80 Z" fill="#c2c2c2" stroke="#8a8a8a" stroke-width="0.3" stroke-linejoin="round" stroke-linecap="round"/>
<path d="M330.20,698.44 L334.40,695.44 L340.16,699.52 L339.56,704.56 L335.60,705.76 L332.00,703.96 Z" fill="#a9a9a9" stroke="#7c7c7c" stroke-width="0.3" stroke-linejoin="round" stroke-linecap="round"/>
<path d="M318.44,705.16 L326.60,702.40 L330.20,710.20 L327.80,719.20 L319.40,716.80 L317.60,713.80 L318.44,709.00 Z" fill="#a0a0a0" stroke="none" stroke-width="0.5" stroke-linejoin="round" stroke-linecap="round"/>
<path d="M315.80,721.00 L328.40,721.00 L327.80,727.00 L317.96,726.04 Z" fill="#9c9c9c" stroke="#757575" stroke-width="0.3" stroke-linejoin="round" stroke-linecap="round"/>
<path d="M310.04,711.16 L315.80,709.24 L318.44,713.80 L316.76,714.04 Z" fill="#c9c9c9" stroke="none" stroke-width="0.5" stroke-linejoin="round" stroke-linecap="round"/>
<path d="M378.20,702.40 L383.00,701.20 L385.40,703.00 L389.00,701.80 L392.60,704.20 L395.00,709.00 L397.40,715.00 L399.80,719.80 L400.40,725.80 L397.40,728.20 L391.40,731.20 L386.60,733.00 L384.80,731.80 L390.20,728.20 L392.60,725.80 L391.40,722.80 L385.40,725.80 L382.40,727.00 L381.80,725.20 L387.80,721.60 L390.20,718.60 L389.00,715.00 L386.60,713.20 L384.20,715.60 L380.60,716.80 L377.00,715.00 L375.20,711.40 L376.40,706.60 Z" fill="#a6a6a6" stroke="#707070" stroke-width="0.5" stroke-linejoin="round" stroke-linecap="round"/>
<path d="M390.20,695.80 L395.60,694.60 L396.20,698.20 L392.00,700.00 Z" fill="#8a8a8a" stroke="#6a6a6a" stroke-width="0.4" stroke-linejoin="round" stroke-linecap="round"/>
<circle cx="386.0" cy="698.9" r="2.2" fill="#fff" stroke="#8a8a8a" stroke-width="1"/>
<circle cx="380.0" cy="712.4" r="1.7" fill="#fff" stroke="#777" stroke-width="0.5"/>
<path d="M387.20,702.40 L389.00,702.04 L391.40,707.80 L392.60,718.60 L391.16,722.44 L389.96,718.60 L389.24,710.20 Z" fill="#cdcdcd" stroke="none" stroke-width="0.5" stroke-linejoin="round" stroke-linecap="round"/>
<path d="M395.60,710.80 L399.80,719.80 L400.28,725.56 L397.40,727.96 L396.80,721.00 Z" fill="#8c8c8c" stroke="none" stroke-width="0.5" stroke-linejoin="round" stroke-linecap="round"/>
<path d="M448.00,703.00 L454.00,701.20 L457.60,703.00 L458.20,706.00 L463.60,709.00 L463.00,711.40 L460.00,710.80 L461.20,713.80 L466.00,715.00 L469.00,718.00 L468.40,721.00 L465.40,719.80 L464.20,717.40 L460.00,716.80 L458.80,720.40 L458.20,725.80 L459.40,728.20 L462.40,727.00 L464.20,723.40 L465.40,724.60 L464.20,728.80 L460.00,730.60 L457.60,729.40 L456.40,725.20 L454.00,723.40 L451.60,727.00 L448.60,731.80 L443.80,733.00 L439.60,731.20 L437.20,728.20 L439.00,722.20 L440.20,716.20 L442.00,712.60 L446.20,712.00 L447.40,709.00 Z" fill="#9a9a9a" stroke="#6e6e6e" stroke-width="0.5" stroke-linejoin="round" stroke-linecap="round"/>
<path d="M449.80,694.60 L454.00,692.80 L459.40,695.80 L458.80,698.20 L460.60,700.00 L460.00,703.00 L457.60,702.40 L454.00,700.60 L450.40,699.40 L449.80,697.60 L452.20,697.00 Z" fill="#a8a8a8" stroke="#707070" stroke-width="0.4" stroke-linejoin="round" stroke-linecap="round"/>
<path d="M440.20,716.80 L446.20,712.84 L452.80,715.00 L454.00,722.44 L448.60,731.20 L443.80,732.40 L438.40,728.20 Z" fill="#bababa" stroke="#808080" stroke-width="0.3" stroke-linejoin="round" stroke-linecap="round"/>
<path d="M442.00,721.00 L448.00,718.00 L449.44,724.60 L445.60,730.00 L441.40,729.16 Z" fill="#cfcfcf" stroke="none" stroke-width="0.5" stroke-linejoin="round" stroke-linecap="round"/>
<path d="M448.60,703.60 L454.00,702.04 L457.00,703.60 L457.36,710.20 L452.80,713.20 L448.00,711.40 Z" fill="#b2b2b2" stroke="none" stroke-width="0.5" stroke-linejoin="round" stroke-linecap="round"/>
<path d="M375.20,750.40 L391.40,743.20 L393.20,745.00 L392.60,748.00 L398.60,748.60 L399.80,753.40 L399.20,763.00 L397.40,770.20 L392.60,774.40 L386.60,775.00 L381.80,771.40 L380.00,766.60 L375.80,766.00 L375.20,760.60 L376.40,759.40 L375.20,755.80 Z" fill="#9a9a9a" stroke="#707070" stroke-width="0.5" stroke-linejoin="round" stroke-linecap="round"/>
<path d="M375.80,751.00 L391.40,744.04 L392.60,747.40 L376.40,754.60 Z" fill="#cacaca" stroke="none" stroke-width="0.5" stroke-linejoin="round" stroke-linecap="round"/>
<path d="M377.00,757.96 L398.00,749.56 L398.84,753.40 L377.60,761.80 Z" fill="#c6c6c6" stroke="none" stroke-width="0.5" stroke-linejoin="round" stroke-linecap="round"/>
<path d="M376.40,754.96 L392.60,748.12 L398.00,749.32 L377.00,757.72 Z" fill="#7e7e7e" stroke="none" stroke-width="0.5" stroke-linejoin="round" stroke-linecap="round"/>
<path d="M376.04,762.52 L398.84,754.36 L398.60,758.20 L376.40,765.64 Z" fill="#858585" stroke="none" stroke-width="0.5" stroke-linejoin="round" stroke-linecap="round"/>
<path d="M381.80,767.80 L398.00,761.80 L396.80,770.20 L392.60,773.80 L386.60,774.40 L382.40,771.16 Z" fill="#c4c4c4" stroke="#8a8a8a" stroke-width="0.3" stroke-linejoin="round" stroke-linecap="round"/>
<path d="M439.00,742.00 L448.60,743.80 L453.40,740.80 L457.00,739.00 L458.80,742.00 L455.80,745.00 L460.60,743.80 L463.00,745.00 L458.80,748.60 L457.60,750.40 L461.20,754.60 L463.60,761.80 L464.20,769.00 L474.40,772.60 L476.20,773.80 L474.40,776.20 L468.40,778.00 L462.40,777.40 L456.40,776.20 L454.00,776.80 L452.80,775.00 L446.80,770.80 L441.40,767.80 L439.00,764.80 L442.00,761.20 L445.60,763.00 L450.40,766.00 L456.40,769.00 L458.20,768.40 L458.20,761.80 L456.40,755.80 L453.40,751.60 L448.00,749.20 L442.00,748.60 L439.60,747.40 Z" fill="#999" stroke="#6c6c6c" stroke-width="0.5" stroke-linejoin="round" stroke-linecap="round"/>
<path d="M454.00,747.40 L457.60,750.40 L461.20,754.60 L463.60,761.80 L464.20,769.00 L460.00,768.76 L460.00,761.80 L458.20,755.80 L455.20,751.00 Z" fill="#c0c0c0" stroke="none" stroke-width="0.5" stroke-linejoin="round" stroke-linecap="round"/>
<path d="M442.00,761.80 L445.60,763.24 L450.40,766.24 L456.40,769.24 L455.20,771.16 L448.00,769.00 L442.00,766.00 Z" fill="#b8b8b8" stroke="none" stroke-width="0.5" stroke-linejoin="round" stroke-linecap="round"/>
<path d="M464.20,769.60 L474.16,772.96 L473.80,775.60 L468.40,777.16 L462.64,776.44 L459.40,773.80 Z" fill="#aeaeae" stroke="none" stroke-width="0.5" stroke-linejoin="round" stroke-linecap="round"/>
<path d="M439.60,742.60 L448.60,744.28 L453.04,741.64 L454.00,745.00 L448.60,748.36 L442.00,747.88 Z" fill="#8a8a8a" stroke="none" stroke-width="0.5" stroke-linejoin="round" stroke-linecap="round"/>
<path d="M521.20,742.60 L524.80,740.20 L529.00,743.80 L531.40,743.20 L532.60,746.80 L536.20,746.80 L533.20,750.40 L530.20,752.20 L528.40,757.60 L526.60,763.00 L522.40,767.80 L517.60,771.40 L511.60,775.00 L506.80,776.80 L502.00,775.00 L501.40,772.60 L503.80,769.00 L509.20,766.00 L512.80,763.60 L516.40,761.20 L520.00,758.20 L521.20,754.60 L517.00,755.80 L513.40,754.00 L512.80,752.20 L515.80,751.00 L516.40,748.60 L519.40,750.40 L522.40,752.20 L524.80,748.60 L523.60,745.60 Z" fill="#9c9c9c" stroke="#6e6e6e" stroke-width="0.5" stroke-linejoin="round" stroke-linecap="round"/>
<path d="M522.40,752.80 L525.40,748.60 L529.60,751.60 L527.80,757.60 L526.00,762.76 L522.16,767.32 L517.60,770.80 L514.60,767.80 L520.00,763.00 L522.40,758.20 Z" fill="#bcbcbc" stroke="none" stroke-width="0.5" stroke-linejoin="round" stroke-linecap="round"/>
<path d="M502.60,772.60 L509.20,766.84 L514.00,769.60 L507.40,775.60 L502.60,774.64 Z" fill="#b5b5b5" stroke="#808080" stroke-width="0.3" stroke-linejoin="round" stroke-linecap="round"/>
<path d="M521.44,742.84 L524.80,740.68 L528.64,743.92 L525.40,747.40 Z" fill="#868686" stroke="none" stroke-width="0.5" stroke-linejoin="round" stroke-linecap="round"/>
<path d="M645.00,738.40 L646.80,738.40 L648.00,742.00 L651.00,741.40 L651.60,743.80 L648.60,745.00 L649.80,747.40 L653.40,753.40 L655.20,760.60 L654.60,767.80 L655.80,772.60 L653.40,775.00 L649.80,773.80 L648.60,777.40 L645.00,780.40 L642.60,779.20 L643.20,773.80 L640.20,772.60 L636.60,775.00 L634.20,773.80 L634.80,769.00 L631.80,766.60 L629.40,765.40 L631.80,763.00 L633.00,758.20 L633.00,753.40 L635.40,749.80 L640.20,746.80 L643.80,745.00 Z" fill="#9a9a9a" stroke="#6c6c6c" stroke-width="0.5" stroke-linejoin="round" stroke-linecap="round"/>
<ellipse cx="643.6" cy="759.4" rx="4.8" ry="8.9" fill="#fff" stroke="#777" stroke-width="0.5" transform="rotate(-8 643.6 759.4)"/>
<path d="M633.24,753.64 L635.64,750.04 L640.20,747.16 L641.40,749.80 L638.40,753.40 L637.20,763.00 L634.44,768.76 L633.00,763.00 Z" fill="#c2c2c2" stroke="none" stroke-width="0.5" stroke-linejoin="round" stroke-linecap="round"/>
<path d="M650.04,748.00 L653.40,753.64 L655.08,760.60 L654.48,767.80 L652.20,769.00 L651.00,759.40 L648.84,751.00 Z" fill="#868686" stroke="none" stroke-width="0.5" stroke-linejoin="round" stroke-linecap="round"/>
<path d="M634.80,769.60 L640.20,767.80 L643.20,773.80 L640.20,772.60 L636.60,774.76 L634.44,773.56 Z" fill="#adadad" stroke="#777" stroke-width="0.3" stroke-linejoin="round" stroke-linecap="round"/>
<text transform="translate(250,741) rotate(-34.5)" x="0" y="0" font-size="58" fill="#ffff66" stroke="#ffff66" stroke-width="1.6" opacity="0.27" textLength="914" lengthAdjust="spacing" filter="url(#blur1)">a passion for parts since 1985</text>
</svg>
</body></html>
